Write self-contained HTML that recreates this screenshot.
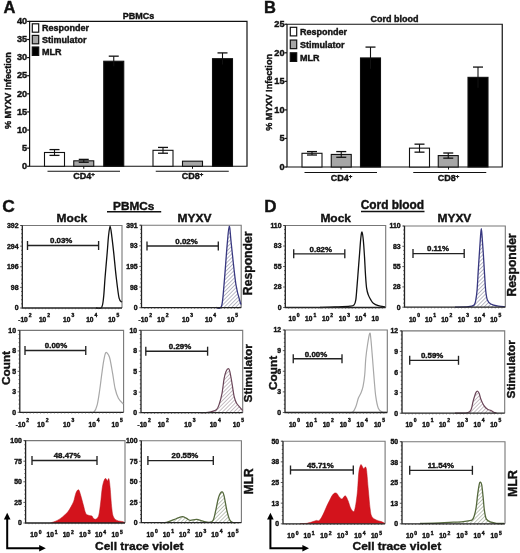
<!DOCTYPE html>
<html><head><meta charset="utf-8"><style>
html,body{margin:0;padding:0;background:#fff;}
svg{display:block;font-family:"Liberation Sans", sans-serif;will-change:transform;filter:blur(0.3px);}
text{stroke:currentColor;stroke-width:0.4px;paint-order:stroke;}
</style></head><body>
<svg width="520" height="553" viewBox="0 0 520 553">
<defs>
<pattern id="hb" patternUnits="userSpaceOnUse" width="2.7" height="2.7" patternTransform="rotate(45)"><line x1="0" y1="-1" x2="0" y2="4" stroke="#76768f" stroke-width="1"/></pattern>
<pattern id="hm" patternUnits="userSpaceOnUse" width="2.7" height="2.7" patternTransform="rotate(45)"><line x1="0" y1="-1" x2="0" y2="4" stroke="#8f7f89" stroke-width="1"/></pattern>
<pattern id="hg" patternUnits="userSpaceOnUse" width="2.7" height="2.7" patternTransform="rotate(45)"><line x1="0" y1="-1" x2="0" y2="4" stroke="#7f8a74" stroke-width="1"/></pattern>
</defs>
<rect width="520" height="553" fill="#fff"/>
<text x="3.5" y="13.2" font-size="16.5" text-anchor="start" font-weight="bold" fill="#111" color="#111">A</text>
<text x="263.9" y="12.9" font-size="16.5" text-anchor="start" font-weight="bold" fill="#111" color="#111">B</text>
<text x="2.3" y="211.5" font-size="17.4" text-anchor="start" font-weight="bold" fill="#111" color="#111">C</text>
<text x="264.2" y="211.7" font-size="17" text-anchor="start" font-weight="bold" fill="#111" color="#111">D</text>
<path d="M29.6 21.4 H247 V166.25 H29.6 Z" fill="none" stroke="#111" stroke-width="1.2"/>
<line x1="27.1" y1="166.25" x2="29.6" y2="166.25" stroke="#111" stroke-width="1.2"/>
<text x="27.200000000000003" y="168.95" font-size="9.2" text-anchor="end" font-weight="bold" fill="#111" color="#111">0</text>
<line x1="27.1" y1="148.14375" x2="29.6" y2="148.14375" stroke="#111" stroke-width="1.2"/>
<text x="27.200000000000003" y="150.84375" font-size="9.2" text-anchor="end" font-weight="bold" fill="#111" color="#111">5</text>
<line x1="27.1" y1="130.0375" x2="29.6" y2="130.0375" stroke="#111" stroke-width="1.2"/>
<text x="27.200000000000003" y="132.73749999999998" font-size="9.2" text-anchor="end" font-weight="bold" fill="#111" color="#111">10</text>
<line x1="27.1" y1="111.93125" x2="29.6" y2="111.93125" stroke="#111" stroke-width="1.2"/>
<text x="27.200000000000003" y="114.63125000000001" font-size="9.2" text-anchor="end" font-weight="bold" fill="#111" color="#111">15</text>
<line x1="27.1" y1="93.825" x2="29.6" y2="93.825" stroke="#111" stroke-width="1.2"/>
<text x="27.200000000000003" y="96.525" font-size="9.2" text-anchor="end" font-weight="bold" fill="#111" color="#111">20</text>
<line x1="27.1" y1="75.71875" x2="29.6" y2="75.71875" stroke="#111" stroke-width="1.2"/>
<text x="27.200000000000003" y="78.41875" font-size="9.2" text-anchor="end" font-weight="bold" fill="#111" color="#111">25</text>
<line x1="27.1" y1="57.61250000000001" x2="29.6" y2="57.61250000000001" stroke="#111" stroke-width="1.2"/>
<text x="27.200000000000003" y="60.312500000000014" font-size="9.2" text-anchor="end" font-weight="bold" fill="#111" color="#111">30</text>
<line x1="27.1" y1="39.50625000000001" x2="29.6" y2="39.50625000000001" stroke="#111" stroke-width="1.2"/>
<text x="27.200000000000003" y="42.20625000000001" font-size="9.2" text-anchor="end" font-weight="bold" fill="#111" color="#111">35</text>
<line x1="27.1" y1="21.400000000000006" x2="29.6" y2="21.400000000000006" stroke="#111" stroke-width="1.2"/>
<text x="27.200000000000003" y="24.100000000000005" font-size="9.2" text-anchor="end" font-weight="bold" fill="#111" color="#111">40</text>
<rect x="44.5" y="152.48925" width="20" height="13.760750000000002" fill="#fff" stroke="#111" stroke-width="1.1"/>
<line x1="54.5" y1="149.59225" x2="54.5" y2="155.38625" stroke="#111" stroke-width="1.1"/>
<line x1="49.5" y1="149.59225" x2="59.5" y2="149.59225" stroke="#111" stroke-width="1.3"/>
<line x1="49.5" y1="155.38625" x2="59.5" y2="155.38625" stroke="#111" stroke-width="1.3"/>
<rect x="73.75" y="160.818125" width="20" height="5.431874999999991" fill="#a6a6a6" stroke="#111" stroke-width="1.1"/>
<line x1="83.75" y1="159.369625" x2="83.75" y2="162.266625" stroke="#111" stroke-width="1.1"/>
<line x1="78.75" y1="159.369625" x2="88.75" y2="159.369625" stroke="#111" stroke-width="1.3"/>
<line x1="78.75" y1="162.266625" x2="88.75" y2="162.266625" stroke="#111" stroke-width="1.3"/>
<rect x="103.75" y="61.23375" width="20" height="105.01625" fill="#000" stroke="#111" stroke-width="1.1"/>
<line x1="113.75" y1="56.164000000000016" x2="113.75" y2="66.3035" stroke="#111" stroke-width="1.1"/>
<line x1="108.75" y1="56.164000000000016" x2="118.75" y2="56.164000000000016" stroke="#111" stroke-width="1.3"/>
<rect x="153" y="150.3165" width="20" height="15.93350000000001" fill="#fff" stroke="#111" stroke-width="1.1"/>
<line x1="163.0" y1="147.4195" x2="163.0" y2="153.2135" stroke="#111" stroke-width="1.1"/>
<line x1="158.0" y1="147.4195" x2="168.0" y2="147.4195" stroke="#111" stroke-width="1.3"/>
<line x1="158.0" y1="153.2135" x2="168.0" y2="153.2135" stroke="#111" stroke-width="1.3"/>
<rect x="182.5" y="161.18025" width="20" height="5.069749999999999" fill="#a6a6a6" stroke="#111" stroke-width="1.1"/>
<rect x="212.5" y="58.698875" width="20" height="107.551125" fill="#000" stroke="#111" stroke-width="1.1"/>
<line x1="222.5" y1="52.904875000000004" x2="222.5" y2="64.49287500000001" stroke="#111" stroke-width="1.1"/>
<line x1="217.5" y1="52.904875000000004" x2="227.5" y2="52.904875000000004" stroke="#111" stroke-width="1.3"/>
<line x1="83.75" y1="166.25" x2="83.75" y2="168.75" stroke="#111" stroke-width="1"/>
<line x1="47.5" y1="171.25" x2="120" y2="171.25" stroke="#111" stroke-width="1.2"/>
<text x="84" y="179" font-size="9" text-anchor="middle" font-weight="bold" fill="#111" color="#111">CD4<tspan font-size="6" dy="-3.5">+</tspan></text>
<line x1="192.5" y1="166.25" x2="192.5" y2="168.75" stroke="#111" stroke-width="1"/>
<line x1="155.75" y1="171.25" x2="228.75" y2="171.25" stroke="#111" stroke-width="1.2"/>
<text x="192.5" y="179" font-size="9" text-anchor="middle" font-weight="bold" fill="#111" color="#111">CD8<tspan font-size="6" dy="-3.5">+</tspan></text>
<rect x="32.3" y="23.8" width="6.4" height="8.4" fill="#fff" stroke="#111" stroke-width="1.2"/>
<text x="42.099999999999994" y="31.3" font-size="9" text-anchor="start" font-weight="bold" fill="#111" color="#111">Responder</text>
<rect x="32.3" y="35.4" width="6.4" height="8.4" fill="#a6a6a6" stroke="#111" stroke-width="1.2"/>
<text x="42.099999999999994" y="42.9" font-size="9" text-anchor="start" font-weight="bold" fill="#111" color="#111">Stimulator</text>
<rect x="32.3" y="47.0" width="6.4" height="8.4" fill="#000" stroke="#111" stroke-width="1.2"/>
<text x="42.099999999999994" y="54.5" font-size="9" text-anchor="start" font-weight="bold" fill="#111" color="#111">MLR</text>
<text x="138.5" y="18.8" font-size="9" text-anchor="middle" font-weight="bold" fill="#111" color="#111">PBMCs</text>
<text x="11.5" y="90.6" font-size="9.1" text-anchor="middle" font-weight="bold" fill="#111" color="#111" transform="rotate(-90 11.5 90.6)">% MYXV Infection</text>
<path d="M287 24.25 H502.25 V167 H287 Z" fill="none" stroke="#111" stroke-width="1.2"/>
<line x1="284.5" y1="167.0" x2="287" y2="167.0" stroke="#111" stroke-width="1.2"/>
<text x="284.6" y="169.7" font-size="9.2" text-anchor="end" font-weight="bold" fill="#111" color="#111">0</text>
<line x1="284.5" y1="138.45" x2="287" y2="138.45" stroke="#111" stroke-width="1.2"/>
<text x="284.6" y="141.14999999999998" font-size="9.2" text-anchor="end" font-weight="bold" fill="#111" color="#111">5</text>
<line x1="284.5" y1="109.9" x2="287" y2="109.9" stroke="#111" stroke-width="1.2"/>
<text x="284.6" y="112.60000000000001" font-size="9.2" text-anchor="end" font-weight="bold" fill="#111" color="#111">10</text>
<line x1="284.5" y1="81.35" x2="287" y2="81.35" stroke="#111" stroke-width="1.2"/>
<text x="284.6" y="84.05" font-size="9.2" text-anchor="end" font-weight="bold" fill="#111" color="#111">15</text>
<line x1="284.5" y1="52.8" x2="287" y2="52.8" stroke="#111" stroke-width="1.2"/>
<text x="284.6" y="55.5" font-size="9.2" text-anchor="end" font-weight="bold" fill="#111" color="#111">20</text>
<line x1="284.5" y1="24.25" x2="287" y2="24.25" stroke="#111" stroke-width="1.2"/>
<text x="284.6" y="26.95" font-size="9.2" text-anchor="end" font-weight="bold" fill="#111" color="#111">25</text>
<rect x="302" y="153.296" width="20" height="13.704000000000008" fill="#fff" stroke="#111" stroke-width="1.1"/>
<line x1="312.0" y1="151.583" x2="312.0" y2="155.00900000000001" stroke="#111" stroke-width="1.1"/>
<line x1="307.0" y1="151.583" x2="317.0" y2="151.583" stroke="#111" stroke-width="1.3"/>
<line x1="307.0" y1="155.00900000000001" x2="317.0" y2="155.00900000000001" stroke="#111" stroke-width="1.3"/>
<rect x="331.25" y="154.438" width="20" height="12.562000000000012" fill="#a6a6a6" stroke="#111" stroke-width="1.1"/>
<line x1="341.25" y1="151.583" x2="341.25" y2="157.293" stroke="#111" stroke-width="1.1"/>
<line x1="336.25" y1="151.583" x2="346.25" y2="151.583" stroke="#111" stroke-width="1.3"/>
<line x1="336.25" y1="157.293" x2="346.25" y2="157.293" stroke="#111" stroke-width="1.3"/>
<rect x="360.5" y="57.93899999999999" width="20" height="109.061" fill="#000" stroke="#111" stroke-width="1.1"/>
<line x1="370.5" y1="47.09" x2="370.5" y2="68.78799999999998" stroke="#111" stroke-width="1.1"/>
<line x1="365.5" y1="47.09" x2="375.5" y2="47.09" stroke="#111" stroke-width="1.3"/>
<rect x="409.5" y="148.157" width="20" height="18.84299999999999" fill="#fff" stroke="#111" stroke-width="1.1"/>
<line x1="419.5" y1="144.16" x2="419.5" y2="152.154" stroke="#111" stroke-width="1.1"/>
<line x1="414.5" y1="144.16" x2="424.5" y2="144.16" stroke="#111" stroke-width="1.3"/>
<line x1="414.5" y1="152.154" x2="424.5" y2="152.154" stroke="#111" stroke-width="1.3"/>
<rect x="438.25" y="155.58" width="20" height="11.419999999999987" fill="#a6a6a6" stroke="#111" stroke-width="1.1"/>
<line x1="448.25" y1="153.0105" x2="448.25" y2="158.1495" stroke="#111" stroke-width="1.1"/>
<line x1="443.25" y1="153.0105" x2="453.25" y2="153.0105" stroke="#111" stroke-width="1.3"/>
<line x1="443.25" y1="158.1495" x2="453.25" y2="158.1495" stroke="#111" stroke-width="1.3"/>
<rect x="468" y="77.35300000000001" width="20" height="89.64699999999999" fill="#000" stroke="#111" stroke-width="1.1"/>
<line x1="478.0" y1="67.075" x2="478.0" y2="87.63100000000001" stroke="#111" stroke-width="1.1"/>
<line x1="473.0" y1="67.075" x2="483.0" y2="67.075" stroke="#111" stroke-width="1.3"/>
<line x1="341" y1="167" x2="341" y2="169.5" stroke="#111" stroke-width="1"/>
<line x1="304.5" y1="172.5" x2="377" y2="172.5" stroke="#111" stroke-width="1.2"/>
<text x="341.5" y="181.2" font-size="9" text-anchor="middle" font-weight="bold" fill="#111" color="#111">CD4<tspan font-size="6" dy="-3.5">+</tspan></text>
<line x1="448.5" y1="167" x2="448.5" y2="169.5" stroke="#111" stroke-width="1"/>
<line x1="413.25" y1="172.5" x2="486.25" y2="172.5" stroke="#111" stroke-width="1.2"/>
<text x="448.5" y="181.2" font-size="9" text-anchor="middle" font-weight="bold" fill="#111" color="#111">CD8<tspan font-size="6" dy="-3.5">+</tspan></text>
<rect x="290.3" y="27.3" width="6.4" height="8.6" fill="#fff" stroke="#111" stroke-width="1.2"/>
<text x="300.1" y="35.2" font-size="9" text-anchor="start" font-weight="bold" fill="#111" color="#111">Responder</text>
<rect x="290.3" y="40.05" width="6.4" height="8.6" fill="#a6a6a6" stroke="#111" stroke-width="1.2"/>
<text x="300.1" y="47.949999999999996" font-size="9" text-anchor="start" font-weight="bold" fill="#111" color="#111">Stimulator</text>
<rect x="290.3" y="52.8" width="6.4" height="8.6" fill="#000" stroke="#111" stroke-width="1.2"/>
<text x="300.1" y="60.699999999999996" font-size="9" text-anchor="start" font-weight="bold" fill="#111" color="#111">MLR</text>
<text x="394.5" y="21.5" font-size="9" text-anchor="middle" font-weight="bold" fill="#111" color="#111">Cord blood</text>
<text x="272" y="92.4" font-size="9.1" text-anchor="middle" font-weight="bold" fill="#111" color="#111" transform="rotate(-90 272 92.4)">% MYXV Infection</text>
<path d="M20.8 225.5 H122 V308" fill="none" stroke="#777" stroke-width="1.1"/>
<path d="M96.00 308.00 C96.92 307.93 100.25 309.23 101.50 307.60 C102.75 305.97 102.90 303.30 103.50 298.20 C104.10 293.10 104.48 284.60 105.10 277.00 C105.72 269.40 106.63 259.38 107.20 252.60 C107.77 245.82 108.02 240.70 108.50 236.30 C108.98 231.90 109.55 226.20 110.10 226.20 C110.65 226.20 111.20 231.90 111.80 236.30 C112.40 240.70 112.97 245.82 113.70 252.60 C114.43 259.38 115.30 269.40 116.20 277.00 C117.10 284.60 118.15 294.00 119.10 298.20 C120.05 302.40 121.43 301.53 121.90 302.20" fill="none" stroke="#111" stroke-width="1.3" stroke-linejoin="round"/>
<path d="M22.3 225.5 V308 H122" fill="none" stroke="#222" stroke-width="1.3"/>
<line x1="20.1" y1="225.5" x2="22.3" y2="225.5" stroke="#333" stroke-width="0.8"/>
<line x1="21.1" y1="229.625" x2="22.3" y2="229.625" stroke="#333" stroke-width="0.8"/>
<line x1="21.1" y1="233.75" x2="22.3" y2="233.75" stroke="#333" stroke-width="0.8"/>
<line x1="21.1" y1="237.875" x2="22.3" y2="237.875" stroke="#333" stroke-width="0.8"/>
<line x1="21.1" y1="242.0" x2="22.3" y2="242.0" stroke="#333" stroke-width="0.8"/>
<line x1="20.1" y1="246.125" x2="22.3" y2="246.125" stroke="#333" stroke-width="0.8"/>
<line x1="21.1" y1="250.25" x2="22.3" y2="250.25" stroke="#333" stroke-width="0.8"/>
<line x1="21.1" y1="254.375" x2="22.3" y2="254.375" stroke="#333" stroke-width="0.8"/>
<line x1="21.1" y1="258.5" x2="22.3" y2="258.5" stroke="#333" stroke-width="0.8"/>
<line x1="21.1" y1="262.625" x2="22.3" y2="262.625" stroke="#333" stroke-width="0.8"/>
<line x1="20.1" y1="266.75" x2="22.3" y2="266.75" stroke="#333" stroke-width="0.8"/>
<line x1="21.1" y1="270.875" x2="22.3" y2="270.875" stroke="#333" stroke-width="0.8"/>
<line x1="21.1" y1="275.0" x2="22.3" y2="275.0" stroke="#333" stroke-width="0.8"/>
<line x1="21.1" y1="279.125" x2="22.3" y2="279.125" stroke="#333" stroke-width="0.8"/>
<line x1="21.1" y1="283.25" x2="22.3" y2="283.25" stroke="#333" stroke-width="0.8"/>
<line x1="20.1" y1="287.375" x2="22.3" y2="287.375" stroke="#333" stroke-width="0.8"/>
<line x1="21.1" y1="291.5" x2="22.3" y2="291.5" stroke="#333" stroke-width="0.8"/>
<line x1="21.1" y1="295.625" x2="22.3" y2="295.625" stroke="#333" stroke-width="0.8"/>
<line x1="21.1" y1="299.75" x2="22.3" y2="299.75" stroke="#333" stroke-width="0.8"/>
<line x1="21.1" y1="303.875" x2="22.3" y2="303.875" stroke="#333" stroke-width="0.8"/>
<line x1="20.1" y1="308.0" x2="22.3" y2="308.0" stroke="#333" stroke-width="0.8"/>
<line x1="25.623333333333335" y1="308" x2="25.623333333333335" y2="309.2" stroke="#444" stroke-width="0.7"/>
<line x1="28.946666666666665" y1="308" x2="28.946666666666665" y2="309.2" stroke="#444" stroke-width="0.7"/>
<line x1="32.27" y1="308" x2="32.27" y2="309.2" stroke="#444" stroke-width="0.7"/>
<line x1="35.593333333333334" y1="308" x2="35.593333333333334" y2="309.2" stroke="#444" stroke-width="0.7"/>
<line x1="38.91666666666667" y1="308" x2="38.91666666666667" y2="309.2" stroke="#444" stroke-width="0.7"/>
<line x1="42.24" y1="308" x2="42.24" y2="309.2" stroke="#444" stroke-width="0.7"/>
<line x1="45.56333333333333" y1="308" x2="45.56333333333333" y2="309.2" stroke="#444" stroke-width="0.7"/>
<line x1="48.88666666666667" y1="308" x2="48.88666666666667" y2="309.2" stroke="#444" stroke-width="0.7"/>
<line x1="52.21000000000001" y1="308" x2="52.21000000000001" y2="309.2" stroke="#444" stroke-width="0.7"/>
<line x1="55.53333333333333" y1="308" x2="55.53333333333333" y2="309.2" stroke="#444" stroke-width="0.7"/>
<line x1="58.85666666666667" y1="308" x2="58.85666666666667" y2="309.2" stroke="#444" stroke-width="0.7"/>
<line x1="62.18000000000001" y1="308" x2="62.18000000000001" y2="309.2" stroke="#444" stroke-width="0.7"/>
<line x1="65.50333333333334" y1="308" x2="65.50333333333334" y2="309.2" stroke="#444" stroke-width="0.7"/>
<line x1="68.82666666666667" y1="308" x2="68.82666666666667" y2="309.2" stroke="#444" stroke-width="0.7"/>
<line x1="72.15" y1="308" x2="72.15" y2="309.2" stroke="#444" stroke-width="0.7"/>
<line x1="75.47333333333333" y1="308" x2="75.47333333333333" y2="309.2" stroke="#444" stroke-width="0.7"/>
<line x1="78.79666666666667" y1="308" x2="78.79666666666667" y2="309.2" stroke="#444" stroke-width="0.7"/>
<line x1="82.12" y1="308" x2="82.12" y2="309.2" stroke="#444" stroke-width="0.7"/>
<line x1="85.44333333333333" y1="308" x2="85.44333333333333" y2="309.2" stroke="#444" stroke-width="0.7"/>
<line x1="88.76666666666667" y1="308" x2="88.76666666666667" y2="309.2" stroke="#444" stroke-width="0.7"/>
<line x1="92.09" y1="308" x2="92.09" y2="309.2" stroke="#444" stroke-width="0.7"/>
<line x1="95.41333333333333" y1="308" x2="95.41333333333333" y2="309.2" stroke="#444" stroke-width="0.7"/>
<line x1="98.73666666666666" y1="308" x2="98.73666666666666" y2="309.2" stroke="#444" stroke-width="0.7"/>
<line x1="102.06" y1="308" x2="102.06" y2="309.2" stroke="#444" stroke-width="0.7"/>
<line x1="105.38333333333333" y1="308" x2="105.38333333333333" y2="309.2" stroke="#444" stroke-width="0.7"/>
<line x1="108.70666666666668" y1="308" x2="108.70666666666668" y2="309.2" stroke="#444" stroke-width="0.7"/>
<line x1="112.03" y1="308" x2="112.03" y2="309.2" stroke="#444" stroke-width="0.7"/>
<line x1="115.35333333333332" y1="308" x2="115.35333333333332" y2="309.2" stroke="#444" stroke-width="0.7"/>
<line x1="118.67666666666668" y1="308" x2="118.67666666666668" y2="309.2" stroke="#444" stroke-width="0.7"/>
<text x="18.5" y="227.95" font-size="6.9" text-anchor="end" font-weight="bold" fill="#111" color="#111">392</text>
<text x="18.5" y="248.575" font-size="6.9" text-anchor="end" font-weight="bold" fill="#111" color="#111">294</text>
<text x="18.5" y="269.2" font-size="6.9" text-anchor="end" font-weight="bold" fill="#111" color="#111">196</text>
<text x="18.5" y="289.825" font-size="6.9" text-anchor="end" font-weight="bold" fill="#111" color="#111">98</text>
<text x="18.5" y="310.45" font-size="6.9" text-anchor="end" font-weight="bold" fill="#111" color="#111">0</text>
<text x="18.2" y="321.6" font-size="6.0" text-anchor="start" font-weight="bold" fill="#111" color="#111">-</text>
<text x="20.4" y="321.6" font-size="6.6" text-anchor="start" font-weight="bold" fill="#111" color="#111">10<tspan font-size="5" dx="1" dy="-4.4">2</tspan></text>
<text x="38.9" y="321.6" font-size="6.6" text-anchor="start" font-weight="bold" fill="#111" color="#111">10<tspan font-size="5" dx="1" dy="-4.4">2</tspan></text>
<text x="63.1" y="321.6" font-size="6.6" text-anchor="start" font-weight="bold" fill="#111" color="#111">10<tspan font-size="5" dx="1" dy="-4.4">3</tspan></text>
<text x="86.2" y="321.6" font-size="6.6" text-anchor="start" font-weight="bold" fill="#111" color="#111">10<tspan font-size="5" dx="1" dy="-4.4">4</tspan></text>
<text x="108.2" y="321.6" font-size="6.6" text-anchor="start" font-weight="bold" fill="#111" color="#111">10<tspan font-size="5" dx="1" dy="-4.4">5</tspan></text>
<line x1="27.5" y1="245.5" x2="98.6" y2="245.5" stroke="#222" stroke-width="1.35"/>
<line x1="27.5" y1="241.0" x2="27.5" y2="250.0" stroke="#222" stroke-width="1.35"/>
<line x1="98.6" y1="241.0" x2="98.6" y2="250.0" stroke="#222" stroke-width="1.35"/>
<text x="61.2" y="243.3" font-size="7.9" text-anchor="middle" font-weight="bold" fill="#111" color="#111">0.03%</text>
<path d="M140.0 225.2 H241.2 V307.7" fill="none" stroke="#777" stroke-width="1.1"/>
<path d="M216.00 307.50 C216.92 307.30 220.17 310.05 221.50 306.30 C222.83 302.55 223.05 295.32 224.00 285.00 C224.95 274.68 226.32 254.20 227.20 244.40 C228.08 234.60 228.62 226.27 229.30 226.20 C229.98 226.13 230.18 234.20 231.30 244.00 C232.42 253.80 234.38 274.88 236.00 285.00 C237.62 295.12 240.17 301.42 241.00 304.70 L241.00 307.7 L216.00 307.7 Z" fill="url(#hb)" stroke="none"/>
<path d="M216.00 307.50 C216.92 307.30 220.17 310.05 221.50 306.30 C222.83 302.55 223.05 295.32 224.00 285.00 C224.95 274.68 226.32 254.20 227.20 244.40 C228.08 234.60 228.62 226.27 229.30 226.20 C229.98 226.13 230.18 234.20 231.30 244.00 C232.42 253.80 234.38 274.88 236.00 285.00 C237.62 295.12 240.17 301.42 241.00 304.70" fill="none" stroke="#383880" stroke-width="1.3" stroke-linejoin="round"/>
<path d="M141.5 225.2 V307.7 H241.2" fill="none" stroke="#222" stroke-width="1.3"/>
<line x1="139.3" y1="225.2" x2="141.5" y2="225.2" stroke="#333" stroke-width="0.8"/>
<line x1="140.3" y1="229.325" x2="141.5" y2="229.325" stroke="#333" stroke-width="0.8"/>
<line x1="140.3" y1="233.45" x2="141.5" y2="233.45" stroke="#333" stroke-width="0.8"/>
<line x1="140.3" y1="237.575" x2="141.5" y2="237.575" stroke="#333" stroke-width="0.8"/>
<line x1="140.3" y1="241.7" x2="141.5" y2="241.7" stroke="#333" stroke-width="0.8"/>
<line x1="139.3" y1="245.825" x2="141.5" y2="245.825" stroke="#333" stroke-width="0.8"/>
<line x1="140.3" y1="249.95" x2="141.5" y2="249.95" stroke="#333" stroke-width="0.8"/>
<line x1="140.3" y1="254.075" x2="141.5" y2="254.075" stroke="#333" stroke-width="0.8"/>
<line x1="140.3" y1="258.2" x2="141.5" y2="258.2" stroke="#333" stroke-width="0.8"/>
<line x1="140.3" y1="262.325" x2="141.5" y2="262.325" stroke="#333" stroke-width="0.8"/>
<line x1="139.3" y1="266.45" x2="141.5" y2="266.45" stroke="#333" stroke-width="0.8"/>
<line x1="140.3" y1="270.575" x2="141.5" y2="270.575" stroke="#333" stroke-width="0.8"/>
<line x1="140.3" y1="274.7" x2="141.5" y2="274.7" stroke="#333" stroke-width="0.8"/>
<line x1="140.3" y1="278.825" x2="141.5" y2="278.825" stroke="#333" stroke-width="0.8"/>
<line x1="140.3" y1="282.95" x2="141.5" y2="282.95" stroke="#333" stroke-width="0.8"/>
<line x1="139.3" y1="287.075" x2="141.5" y2="287.075" stroke="#333" stroke-width="0.8"/>
<line x1="140.3" y1="291.2" x2="141.5" y2="291.2" stroke="#333" stroke-width="0.8"/>
<line x1="140.3" y1="295.325" x2="141.5" y2="295.325" stroke="#333" stroke-width="0.8"/>
<line x1="140.3" y1="299.45" x2="141.5" y2="299.45" stroke="#333" stroke-width="0.8"/>
<line x1="140.3" y1="303.575" x2="141.5" y2="303.575" stroke="#333" stroke-width="0.8"/>
<line x1="139.3" y1="307.7" x2="141.5" y2="307.7" stroke="#333" stroke-width="0.8"/>
<line x1="144.82333333333332" y1="307.7" x2="144.82333333333332" y2="308.9" stroke="#444" stroke-width="0.7"/>
<line x1="148.14666666666668" y1="307.7" x2="148.14666666666668" y2="308.9" stroke="#444" stroke-width="0.7"/>
<line x1="151.47" y1="307.7" x2="151.47" y2="308.9" stroke="#444" stroke-width="0.7"/>
<line x1="154.79333333333332" y1="307.7" x2="154.79333333333332" y2="308.9" stroke="#444" stroke-width="0.7"/>
<line x1="158.11666666666667" y1="307.7" x2="158.11666666666667" y2="308.9" stroke="#444" stroke-width="0.7"/>
<line x1="161.44" y1="307.7" x2="161.44" y2="308.9" stroke="#444" stroke-width="0.7"/>
<line x1="164.76333333333332" y1="307.7" x2="164.76333333333332" y2="308.9" stroke="#444" stroke-width="0.7"/>
<line x1="168.08666666666667" y1="307.7" x2="168.08666666666667" y2="308.9" stroke="#444" stroke-width="0.7"/>
<line x1="171.41" y1="307.7" x2="171.41" y2="308.9" stroke="#444" stroke-width="0.7"/>
<line x1="174.73333333333332" y1="307.7" x2="174.73333333333332" y2="308.9" stroke="#444" stroke-width="0.7"/>
<line x1="178.05666666666667" y1="307.7" x2="178.05666666666667" y2="308.9" stroke="#444" stroke-width="0.7"/>
<line x1="181.38" y1="307.7" x2="181.38" y2="308.9" stroke="#444" stroke-width="0.7"/>
<line x1="184.70333333333332" y1="307.7" x2="184.70333333333332" y2="308.9" stroke="#444" stroke-width="0.7"/>
<line x1="188.02666666666664" y1="307.7" x2="188.02666666666664" y2="308.9" stroke="#444" stroke-width="0.7"/>
<line x1="191.35" y1="307.7" x2="191.35" y2="308.9" stroke="#444" stroke-width="0.7"/>
<line x1="194.67333333333332" y1="307.7" x2="194.67333333333332" y2="308.9" stroke="#444" stroke-width="0.7"/>
<line x1="197.99666666666667" y1="307.7" x2="197.99666666666667" y2="308.9" stroke="#444" stroke-width="0.7"/>
<line x1="201.32" y1="307.7" x2="201.32" y2="308.9" stroke="#444" stroke-width="0.7"/>
<line x1="204.64333333333332" y1="307.7" x2="204.64333333333332" y2="308.9" stroke="#444" stroke-width="0.7"/>
<line x1="207.96666666666664" y1="307.7" x2="207.96666666666664" y2="308.9" stroke="#444" stroke-width="0.7"/>
<line x1="211.29" y1="307.7" x2="211.29" y2="308.9" stroke="#444" stroke-width="0.7"/>
<line x1="214.61333333333332" y1="307.7" x2="214.61333333333332" y2="308.9" stroke="#444" stroke-width="0.7"/>
<line x1="217.93666666666667" y1="307.7" x2="217.93666666666667" y2="308.9" stroke="#444" stroke-width="0.7"/>
<line x1="221.26" y1="307.7" x2="221.26" y2="308.9" stroke="#444" stroke-width="0.7"/>
<line x1="224.58333333333331" y1="307.7" x2="224.58333333333331" y2="308.9" stroke="#444" stroke-width="0.7"/>
<line x1="227.90666666666667" y1="307.7" x2="227.90666666666667" y2="308.9" stroke="#444" stroke-width="0.7"/>
<line x1="231.23" y1="307.7" x2="231.23" y2="308.9" stroke="#444" stroke-width="0.7"/>
<line x1="234.5533333333333" y1="307.7" x2="234.5533333333333" y2="308.9" stroke="#444" stroke-width="0.7"/>
<line x1="237.87666666666667" y1="307.7" x2="237.87666666666667" y2="308.9" stroke="#444" stroke-width="0.7"/>
<text x="137.7" y="227.64999999999998" font-size="6.9" text-anchor="end" font-weight="bold" fill="#111" color="#111">391</text>
<text x="137.7" y="248.27499999999998" font-size="6.9" text-anchor="end" font-weight="bold" fill="#111" color="#111">93</text>
<text x="137.7" y="268.9" font-size="6.9" text-anchor="end" font-weight="bold" fill="#111" color="#111">195</text>
<text x="137.7" y="289.525" font-size="6.9" text-anchor="end" font-weight="bold" fill="#111" color="#111">98</text>
<text x="137.7" y="310.15" font-size="6.9" text-anchor="end" font-weight="bold" fill="#111" color="#111">0</text>
<text x="138.60000000000002" y="321.6" font-size="6.0" text-anchor="start" font-weight="bold" fill="#111" color="#111">-</text>
<text x="140.8" y="321.6" font-size="6.6" text-anchor="start" font-weight="bold" fill="#111" color="#111">10<tspan font-size="5" dx="1" dy="-4.4">2</tspan></text>
<text x="157.3" y="321.6" font-size="6.6" text-anchor="start" font-weight="bold" fill="#111" color="#111">10<tspan font-size="5" dx="1" dy="-4.4">2</tspan></text>
<text x="182" y="321.6" font-size="6.6" text-anchor="start" font-weight="bold" fill="#111" color="#111">10<tspan font-size="5" dx="1" dy="-4.4">3</tspan></text>
<text x="205" y="321.6" font-size="6.6" text-anchor="start" font-weight="bold" fill="#111" color="#111">10<tspan font-size="5" dx="1" dy="-4.4">4</tspan></text>
<text x="227" y="321.6" font-size="6.6" text-anchor="start" font-weight="bold" fill="#111" color="#111">10<tspan font-size="5" dx="1" dy="-4.4">5</tspan></text>
<line x1="147" y1="246" x2="218.3" y2="246" stroke="#222" stroke-width="1.35"/>
<line x1="147" y1="241.5" x2="147" y2="250.5" stroke="#222" stroke-width="1.35"/>
<line x1="218.3" y1="241.5" x2="218.3" y2="250.5" stroke="#222" stroke-width="1.35"/>
<text x="186.5" y="243.8" font-size="7.9" text-anchor="middle" font-weight="bold" fill="#111" color="#111">0.02%</text>
<path d="M18.3 330.4 H123.6 V412.3" fill="none" stroke="#777" stroke-width="1.1"/>
<path d="M90.00 412.30 C90.67 412.25 92.80 413.25 94.00 412.00 C95.20 410.75 96.25 408.47 97.20 404.80 C98.15 401.13 98.93 395.15 99.70 390.00 C100.47 384.85 101.13 378.77 101.80 373.90 C102.47 369.03 103.03 364.33 103.70 360.80 C104.37 357.27 104.98 353.65 105.80 352.70 C106.62 351.75 107.87 353.88 108.60 355.10 C109.33 356.32 109.52 356.87 110.20 360.00 C110.88 363.13 111.88 369.15 112.70 373.90 C113.52 378.65 114.15 384.43 115.10 388.50 C116.05 392.57 117.03 395.72 118.40 398.30 C119.77 400.88 122.48 403.05 123.30 404.00" fill="none" stroke="#a8a8a8" stroke-width="1.2" stroke-linejoin="round"/>
<path d="M19.8 330.4 V412.3 H123.6" fill="none" stroke="#222" stroke-width="1.3"/>
<line x1="17.6" y1="330.4" x2="19.8" y2="330.4" stroke="#333" stroke-width="0.8"/>
<line x1="18.6" y1="334.495" x2="19.8" y2="334.495" stroke="#333" stroke-width="0.8"/>
<line x1="18.6" y1="338.59" x2="19.8" y2="338.59" stroke="#333" stroke-width="0.8"/>
<line x1="18.6" y1="342.685" x2="19.8" y2="342.685" stroke="#333" stroke-width="0.8"/>
<line x1="18.6" y1="346.78" x2="19.8" y2="346.78" stroke="#333" stroke-width="0.8"/>
<line x1="17.6" y1="350.875" x2="19.8" y2="350.875" stroke="#333" stroke-width="0.8"/>
<line x1="18.6" y1="354.96999999999997" x2="19.8" y2="354.96999999999997" stroke="#333" stroke-width="0.8"/>
<line x1="18.6" y1="359.065" x2="19.8" y2="359.065" stroke="#333" stroke-width="0.8"/>
<line x1="18.6" y1="363.15999999999997" x2="19.8" y2="363.15999999999997" stroke="#333" stroke-width="0.8"/>
<line x1="18.6" y1="367.255" x2="19.8" y2="367.255" stroke="#333" stroke-width="0.8"/>
<line x1="17.6" y1="371.35" x2="19.8" y2="371.35" stroke="#333" stroke-width="0.8"/>
<line x1="18.6" y1="375.445" x2="19.8" y2="375.445" stroke="#333" stroke-width="0.8"/>
<line x1="18.6" y1="379.54" x2="19.8" y2="379.54" stroke="#333" stroke-width="0.8"/>
<line x1="18.6" y1="383.635" x2="19.8" y2="383.635" stroke="#333" stroke-width="0.8"/>
<line x1="18.6" y1="387.73" x2="19.8" y2="387.73" stroke="#333" stroke-width="0.8"/>
<line x1="17.6" y1="391.825" x2="19.8" y2="391.825" stroke="#333" stroke-width="0.8"/>
<line x1="18.6" y1="395.92" x2="19.8" y2="395.92" stroke="#333" stroke-width="0.8"/>
<line x1="18.6" y1="400.015" x2="19.8" y2="400.015" stroke="#333" stroke-width="0.8"/>
<line x1="18.6" y1="404.11" x2="19.8" y2="404.11" stroke="#333" stroke-width="0.8"/>
<line x1="18.6" y1="408.20500000000004" x2="19.8" y2="408.20500000000004" stroke="#333" stroke-width="0.8"/>
<line x1="17.6" y1="412.3" x2="19.8" y2="412.3" stroke="#333" stroke-width="0.8"/>
<line x1="23.26" y1="412.3" x2="23.26" y2="413.5" stroke="#444" stroke-width="0.7"/>
<line x1="26.72" y1="412.3" x2="26.72" y2="413.5" stroke="#444" stroke-width="0.7"/>
<line x1="30.18" y1="412.3" x2="30.18" y2="413.5" stroke="#444" stroke-width="0.7"/>
<line x1="33.64" y1="412.3" x2="33.64" y2="413.5" stroke="#444" stroke-width="0.7"/>
<line x1="37.1" y1="412.3" x2="37.1" y2="413.5" stroke="#444" stroke-width="0.7"/>
<line x1="40.56" y1="412.3" x2="40.56" y2="413.5" stroke="#444" stroke-width="0.7"/>
<line x1="44.02" y1="412.3" x2="44.02" y2="413.5" stroke="#444" stroke-width="0.7"/>
<line x1="47.480000000000004" y1="412.3" x2="47.480000000000004" y2="413.5" stroke="#444" stroke-width="0.7"/>
<line x1="50.94" y1="412.3" x2="50.94" y2="413.5" stroke="#444" stroke-width="0.7"/>
<line x1="54.400000000000006" y1="412.3" x2="54.400000000000006" y2="413.5" stroke="#444" stroke-width="0.7"/>
<line x1="57.86" y1="412.3" x2="57.86" y2="413.5" stroke="#444" stroke-width="0.7"/>
<line x1="61.31999999999999" y1="412.3" x2="61.31999999999999" y2="413.5" stroke="#444" stroke-width="0.7"/>
<line x1="64.78" y1="412.3" x2="64.78" y2="413.5" stroke="#444" stroke-width="0.7"/>
<line x1="68.24000000000001" y1="412.3" x2="68.24000000000001" y2="413.5" stroke="#444" stroke-width="0.7"/>
<line x1="71.7" y1="412.3" x2="71.7" y2="413.5" stroke="#444" stroke-width="0.7"/>
<line x1="75.16" y1="412.3" x2="75.16" y2="413.5" stroke="#444" stroke-width="0.7"/>
<line x1="78.62" y1="412.3" x2="78.62" y2="413.5" stroke="#444" stroke-width="0.7"/>
<line x1="82.08" y1="412.3" x2="82.08" y2="413.5" stroke="#444" stroke-width="0.7"/>
<line x1="85.53999999999999" y1="412.3" x2="85.53999999999999" y2="413.5" stroke="#444" stroke-width="0.7"/>
<line x1="89.0" y1="412.3" x2="89.0" y2="413.5" stroke="#444" stroke-width="0.7"/>
<line x1="92.46" y1="412.3" x2="92.46" y2="413.5" stroke="#444" stroke-width="0.7"/>
<line x1="95.91999999999999" y1="412.3" x2="95.91999999999999" y2="413.5" stroke="#444" stroke-width="0.7"/>
<line x1="99.38" y1="412.3" x2="99.38" y2="413.5" stroke="#444" stroke-width="0.7"/>
<line x1="102.83999999999999" y1="412.3" x2="102.83999999999999" y2="413.5" stroke="#444" stroke-width="0.7"/>
<line x1="106.3" y1="412.3" x2="106.3" y2="413.5" stroke="#444" stroke-width="0.7"/>
<line x1="109.75999999999999" y1="412.3" x2="109.75999999999999" y2="413.5" stroke="#444" stroke-width="0.7"/>
<line x1="113.22" y1="412.3" x2="113.22" y2="413.5" stroke="#444" stroke-width="0.7"/>
<line x1="116.68" y1="412.3" x2="116.68" y2="413.5" stroke="#444" stroke-width="0.7"/>
<line x1="120.13999999999999" y1="412.3" x2="120.13999999999999" y2="413.5" stroke="#444" stroke-width="0.7"/>
<text x="16.0" y="332.84999999999997" font-size="6.9" text-anchor="end" font-weight="bold" fill="#111" color="#111">10</text>
<text x="16.0" y="353.325" font-size="6.9" text-anchor="end" font-weight="bold" fill="#111" color="#111">8</text>
<text x="16.0" y="373.8" font-size="6.9" text-anchor="end" font-weight="bold" fill="#111" color="#111">5</text>
<text x="16.0" y="394.275" font-size="6.9" text-anchor="end" font-weight="bold" fill="#111" color="#111">3</text>
<text x="16.0" y="414.75" font-size="6.9" text-anchor="end" font-weight="bold" fill="#111" color="#111">0</text>
<text x="15.8" y="426.6" font-size="6.0" text-anchor="start" font-weight="bold" fill="#111" color="#111">-</text>
<text x="18" y="426.6" font-size="6.6" text-anchor="start" font-weight="bold" fill="#111" color="#111">10<tspan font-size="5" dx="1" dy="-4.4">2</tspan></text>
<text x="37.3" y="426.6" font-size="6.6" text-anchor="start" font-weight="bold" fill="#111" color="#111">10<tspan font-size="5" dx="1" dy="-4.4">2</tspan></text>
<text x="63.1" y="426.6" font-size="6.6" text-anchor="start" font-weight="bold" fill="#111" color="#111">10<tspan font-size="5" dx="1" dy="-4.4">3</tspan></text>
<text x="88.5" y="426.6" font-size="6.6" text-anchor="start" font-weight="bold" fill="#111" color="#111">10<tspan font-size="5" dx="1" dy="-4.4">4</tspan></text>
<text x="111.6" y="426.6" font-size="6.6" text-anchor="start" font-weight="bold" fill="#111" color="#111">10<tspan font-size="5" dx="1" dy="-4.4">5</tspan></text>
<line x1="25" y1="350.5" x2="85.75" y2="350.5" stroke="#222" stroke-width="1.35"/>
<line x1="25" y1="346.0" x2="25" y2="355.0" stroke="#222" stroke-width="1.35"/>
<line x1="85.75" y1="346.0" x2="85.75" y2="355.0" stroke="#222" stroke-width="1.35"/>
<text x="56" y="348.3" font-size="7.9" text-anchor="middle" font-weight="bold" fill="#111" color="#111">0.00%</text>
<path d="M139.5 330.4 H242.7 V412.7" fill="none" stroke="#777" stroke-width="1.1"/>
<path d="M200.00 412.70 C201.33 412.65 205.28 412.90 208.00 412.40 C210.72 411.90 214.38 411.23 216.30 409.70 C218.22 408.17 218.55 405.92 219.50 403.20 C220.45 400.48 221.23 397.48 222.00 393.40 C222.77 389.32 223.43 382.37 224.10 378.70 C224.77 375.03 225.27 373.08 226.00 371.40 C226.73 369.72 227.87 368.60 228.50 368.60 C229.13 368.60 229.25 369.17 229.80 371.40 C230.35 373.63 231.07 377.78 231.80 382.00 C232.53 386.22 233.40 393.17 234.20 396.70 C235.00 400.23 235.18 400.90 236.60 403.20 C238.02 405.50 241.68 409.28 242.70 410.50 L242.70 412.7 L200.00 412.7 Z" fill="url(#hm)" stroke="none"/>
<path d="M200.00 412.70 C201.33 412.65 205.28 412.90 208.00 412.40 C210.72 411.90 214.38 411.23 216.30 409.70 C218.22 408.17 218.55 405.92 219.50 403.20 C220.45 400.48 221.23 397.48 222.00 393.40 C222.77 389.32 223.43 382.37 224.10 378.70 C224.77 375.03 225.27 373.08 226.00 371.40 C226.73 369.72 227.87 368.60 228.50 368.60 C229.13 368.60 229.25 369.17 229.80 371.40 C230.35 373.63 231.07 377.78 231.80 382.00 C232.53 386.22 233.40 393.17 234.20 396.70 C235.00 400.23 235.18 400.90 236.60 403.20 C238.02 405.50 241.68 409.28 242.70 410.50" fill="none" stroke="#6a4558" stroke-width="1.2" stroke-linejoin="round"/>
<path d="M141 330.4 V412.7 H242.7" fill="none" stroke="#222" stroke-width="1.3"/>
<line x1="138.8" y1="330.4" x2="141" y2="330.4" stroke="#333" stroke-width="0.8"/>
<line x1="139.8" y1="334.515" x2="141" y2="334.515" stroke="#333" stroke-width="0.8"/>
<line x1="139.8" y1="338.63" x2="141" y2="338.63" stroke="#333" stroke-width="0.8"/>
<line x1="139.8" y1="342.745" x2="141" y2="342.745" stroke="#333" stroke-width="0.8"/>
<line x1="139.8" y1="346.85999999999996" x2="141" y2="346.85999999999996" stroke="#333" stroke-width="0.8"/>
<line x1="138.8" y1="350.97499999999997" x2="141" y2="350.97499999999997" stroke="#333" stroke-width="0.8"/>
<line x1="139.8" y1="355.09" x2="141" y2="355.09" stroke="#333" stroke-width="0.8"/>
<line x1="139.8" y1="359.205" x2="141" y2="359.205" stroke="#333" stroke-width="0.8"/>
<line x1="139.8" y1="363.32" x2="141" y2="363.32" stroke="#333" stroke-width="0.8"/>
<line x1="139.8" y1="367.435" x2="141" y2="367.435" stroke="#333" stroke-width="0.8"/>
<line x1="138.8" y1="371.54999999999995" x2="141" y2="371.54999999999995" stroke="#333" stroke-width="0.8"/>
<line x1="139.8" y1="375.66499999999996" x2="141" y2="375.66499999999996" stroke="#333" stroke-width="0.8"/>
<line x1="139.8" y1="379.78" x2="141" y2="379.78" stroke="#333" stroke-width="0.8"/>
<line x1="139.8" y1="383.895" x2="141" y2="383.895" stroke="#333" stroke-width="0.8"/>
<line x1="139.8" y1="388.01" x2="141" y2="388.01" stroke="#333" stroke-width="0.8"/>
<line x1="138.8" y1="392.125" x2="141" y2="392.125" stroke="#333" stroke-width="0.8"/>
<line x1="139.8" y1="396.24" x2="141" y2="396.24" stroke="#333" stroke-width="0.8"/>
<line x1="139.8" y1="400.355" x2="141" y2="400.355" stroke="#333" stroke-width="0.8"/>
<line x1="139.8" y1="404.46999999999997" x2="141" y2="404.46999999999997" stroke="#333" stroke-width="0.8"/>
<line x1="139.8" y1="408.585" x2="141" y2="408.585" stroke="#333" stroke-width="0.8"/>
<line x1="138.8" y1="412.7" x2="141" y2="412.7" stroke="#333" stroke-width="0.8"/>
<line x1="144.39" y1="412.7" x2="144.39" y2="413.9" stroke="#444" stroke-width="0.7"/>
<line x1="147.78" y1="412.7" x2="147.78" y2="413.9" stroke="#444" stroke-width="0.7"/>
<line x1="151.17" y1="412.7" x2="151.17" y2="413.9" stroke="#444" stroke-width="0.7"/>
<line x1="154.56" y1="412.7" x2="154.56" y2="413.9" stroke="#444" stroke-width="0.7"/>
<line x1="157.95" y1="412.7" x2="157.95" y2="413.9" stroke="#444" stroke-width="0.7"/>
<line x1="161.34" y1="412.7" x2="161.34" y2="413.9" stroke="#444" stroke-width="0.7"/>
<line x1="164.73" y1="412.7" x2="164.73" y2="413.9" stroke="#444" stroke-width="0.7"/>
<line x1="168.12" y1="412.7" x2="168.12" y2="413.9" stroke="#444" stroke-width="0.7"/>
<line x1="171.51" y1="412.7" x2="171.51" y2="413.9" stroke="#444" stroke-width="0.7"/>
<line x1="174.9" y1="412.7" x2="174.9" y2="413.9" stroke="#444" stroke-width="0.7"/>
<line x1="178.29" y1="412.7" x2="178.29" y2="413.9" stroke="#444" stroke-width="0.7"/>
<line x1="181.68" y1="412.7" x2="181.68" y2="413.9" stroke="#444" stroke-width="0.7"/>
<line x1="185.07" y1="412.7" x2="185.07" y2="413.9" stroke="#444" stroke-width="0.7"/>
<line x1="188.45999999999998" y1="412.7" x2="188.45999999999998" y2="413.9" stroke="#444" stroke-width="0.7"/>
<line x1="191.85" y1="412.7" x2="191.85" y2="413.9" stroke="#444" stroke-width="0.7"/>
<line x1="195.24" y1="412.7" x2="195.24" y2="413.9" stroke="#444" stroke-width="0.7"/>
<line x1="198.63" y1="412.7" x2="198.63" y2="413.9" stroke="#444" stroke-width="0.7"/>
<line x1="202.01999999999998" y1="412.7" x2="202.01999999999998" y2="413.9" stroke="#444" stroke-width="0.7"/>
<line x1="205.41" y1="412.7" x2="205.41" y2="413.9" stroke="#444" stroke-width="0.7"/>
<line x1="208.8" y1="412.7" x2="208.8" y2="413.9" stroke="#444" stroke-width="0.7"/>
<line x1="212.19" y1="412.7" x2="212.19" y2="413.9" stroke="#444" stroke-width="0.7"/>
<line x1="215.57999999999998" y1="412.7" x2="215.57999999999998" y2="413.9" stroke="#444" stroke-width="0.7"/>
<line x1="218.97" y1="412.7" x2="218.97" y2="413.9" stroke="#444" stroke-width="0.7"/>
<line x1="222.35999999999999" y1="412.7" x2="222.35999999999999" y2="413.9" stroke="#444" stroke-width="0.7"/>
<line x1="225.75" y1="412.7" x2="225.75" y2="413.9" stroke="#444" stroke-width="0.7"/>
<line x1="229.14" y1="412.7" x2="229.14" y2="413.9" stroke="#444" stroke-width="0.7"/>
<line x1="232.52999999999997" y1="412.7" x2="232.52999999999997" y2="413.9" stroke="#444" stroke-width="0.7"/>
<line x1="235.92" y1="412.7" x2="235.92" y2="413.9" stroke="#444" stroke-width="0.7"/>
<line x1="239.31" y1="412.7" x2="239.31" y2="413.9" stroke="#444" stroke-width="0.7"/>
<text x="137.2" y="332.84999999999997" font-size="6.9" text-anchor="end" font-weight="bold" fill="#111" color="#111">10</text>
<text x="137.2" y="353.42499999999995" font-size="6.9" text-anchor="end" font-weight="bold" fill="#111" color="#111">8</text>
<text x="137.2" y="373.99999999999994" font-size="6.9" text-anchor="end" font-weight="bold" fill="#111" color="#111">5</text>
<text x="137.2" y="394.575" font-size="6.9" text-anchor="end" font-weight="bold" fill="#111" color="#111">3</text>
<text x="137.2" y="415.15" font-size="6.9" text-anchor="end" font-weight="bold" fill="#111" color="#111">0</text>
<text x="137.5" y="426.6" font-size="6.0" text-anchor="start" font-weight="bold" fill="#111" color="#111">-</text>
<text x="139.7" y="426.6" font-size="6.6" text-anchor="start" font-weight="bold" fill="#111" color="#111">10<tspan font-size="5" dx="1" dy="-4.4">2</tspan></text>
<text x="157.7" y="426.6" font-size="6.6" text-anchor="start" font-weight="bold" fill="#111" color="#111">10<tspan font-size="5" dx="1" dy="-4.4">2</tspan></text>
<text x="184.3" y="426.6" font-size="6.6" text-anchor="start" font-weight="bold" fill="#111" color="#111">10<tspan font-size="5" dx="1" dy="-4.4">3</tspan></text>
<text x="209.7" y="426.6" font-size="6.6" text-anchor="start" font-weight="bold" fill="#111" color="#111">10<tspan font-size="5" dx="1" dy="-4.4">4</tspan></text>
<text x="232.8" y="426.6" font-size="6.6" text-anchor="start" font-weight="bold" fill="#111" color="#111">10<tspan font-size="5" dx="1" dy="-4.4">5</tspan></text>
<line x1="145.8" y1="351.2" x2="207.6" y2="351.2" stroke="#222" stroke-width="1.35"/>
<line x1="145.8" y1="346.7" x2="145.8" y2="355.7" stroke="#222" stroke-width="1.35"/>
<line x1="207.6" y1="346.7" x2="207.6" y2="355.7" stroke="#222" stroke-width="1.35"/>
<text x="180" y="349.0" font-size="7.9" text-anchor="middle" font-weight="bold" fill="#111" color="#111">0.29%</text>
<path d="M24.1 440.6 H125 V523" fill="none" stroke="#777" stroke-width="1.1"/>
<path d="M50.40 523.00 C51.55 522.57 55.28 521.42 57.30 520.40 C59.32 519.38 60.77 518.30 62.50 516.90 C64.23 515.50 66.27 513.73 67.70 512.00 C69.13 510.27 70.10 508.28 71.10 506.50 C72.10 504.72 72.97 503.32 73.70 501.30 C74.43 499.28 74.92 496.18 75.50 494.40 C76.08 492.62 76.63 491.32 77.20 490.60 C77.77 489.88 78.32 489.32 78.90 490.10 C79.48 490.88 79.97 492.85 80.70 495.30 C81.43 497.75 82.45 501.78 83.30 504.80 C84.15 507.82 84.80 511.62 85.80 513.40 C86.80 515.18 88.28 515.07 89.30 515.50 C90.32 515.93 91.18 515.48 91.90 516.00 C92.62 516.52 92.88 518.10 93.60 518.60 C94.32 519.10 95.33 519.57 96.20 519.00 C97.07 518.43 98.07 517.87 98.80 515.20 C99.53 512.53 100.02 507.62 100.60 503.00 C101.18 498.38 101.67 491.38 102.30 487.50 C102.93 483.62 103.77 481.15 104.40 479.70 C105.03 478.25 105.58 478.60 106.10 478.80 C106.62 479.00 107.03 480.90 107.50 480.90 C107.97 480.90 108.47 477.70 108.90 478.80 C109.33 479.90 109.62 482.58 110.10 487.50 C110.58 492.42 111.23 503.40 111.80 508.30 C112.37 513.20 112.63 514.88 113.50 516.90 C114.37 518.92 115.42 519.60 117.00 520.40 C118.58 521.20 121.67 521.27 123.00 521.70 C124.33 522.13 124.67 522.78 125.00 523.00 L125.00 523 L50.40 523 Z" fill="#d3131c" stroke="none"/>
<path d="M50.40 523.00 C51.55 522.57 55.28 521.42 57.30 520.40 C59.32 519.38 60.77 518.30 62.50 516.90 C64.23 515.50 66.27 513.73 67.70 512.00 C69.13 510.27 70.10 508.28 71.10 506.50 C72.10 504.72 72.97 503.32 73.70 501.30 C74.43 499.28 74.92 496.18 75.50 494.40 C76.08 492.62 76.63 491.32 77.20 490.60 C77.77 489.88 78.32 489.32 78.90 490.10 C79.48 490.88 79.97 492.85 80.70 495.30 C81.43 497.75 82.45 501.78 83.30 504.80 C84.15 507.82 84.80 511.62 85.80 513.40 C86.80 515.18 88.28 515.07 89.30 515.50 C90.32 515.93 91.18 515.48 91.90 516.00 C92.62 516.52 92.88 518.10 93.60 518.60 C94.32 519.10 95.33 519.57 96.20 519.00 C97.07 518.43 98.07 517.87 98.80 515.20 C99.53 512.53 100.02 507.62 100.60 503.00 C101.18 498.38 101.67 491.38 102.30 487.50 C102.93 483.62 103.77 481.15 104.40 479.70 C105.03 478.25 105.58 478.60 106.10 478.80 C106.62 479.00 107.03 480.90 107.50 480.90 C107.97 480.90 108.47 477.70 108.90 478.80 C109.33 479.90 109.62 482.58 110.10 487.50 C110.58 492.42 111.23 503.40 111.80 508.30 C112.37 513.20 112.63 514.88 113.50 516.90 C114.37 518.92 115.42 519.60 117.00 520.40 C118.58 521.20 121.67 521.27 123.00 521.70 C124.33 522.13 124.67 522.78 125.00 523.00" fill="none" stroke="#b81019" stroke-width="0.5" stroke-linejoin="round"/>
<path d="M25.6 440.6 V523 H125" fill="none" stroke="#222" stroke-width="1.3"/>
<line x1="23.400000000000002" y1="440.6" x2="25.6" y2="440.6" stroke="#333" stroke-width="0.8"/>
<line x1="24.400000000000002" y1="444.72" x2="25.6" y2="444.72" stroke="#333" stroke-width="0.8"/>
<line x1="24.400000000000002" y1="448.84000000000003" x2="25.6" y2="448.84000000000003" stroke="#333" stroke-width="0.8"/>
<line x1="24.400000000000002" y1="452.96000000000004" x2="25.6" y2="452.96000000000004" stroke="#333" stroke-width="0.8"/>
<line x1="24.400000000000002" y1="457.08000000000004" x2="25.6" y2="457.08000000000004" stroke="#333" stroke-width="0.8"/>
<line x1="23.400000000000002" y1="461.20000000000005" x2="25.6" y2="461.20000000000005" stroke="#333" stroke-width="0.8"/>
<line x1="24.400000000000002" y1="465.32" x2="25.6" y2="465.32" stroke="#333" stroke-width="0.8"/>
<line x1="24.400000000000002" y1="469.44" x2="25.6" y2="469.44" stroke="#333" stroke-width="0.8"/>
<line x1="24.400000000000002" y1="473.56" x2="25.6" y2="473.56" stroke="#333" stroke-width="0.8"/>
<line x1="24.400000000000002" y1="477.68" x2="25.6" y2="477.68" stroke="#333" stroke-width="0.8"/>
<line x1="23.400000000000002" y1="481.8" x2="25.6" y2="481.8" stroke="#333" stroke-width="0.8"/>
<line x1="24.400000000000002" y1="485.92" x2="25.6" y2="485.92" stroke="#333" stroke-width="0.8"/>
<line x1="24.400000000000002" y1="490.04" x2="25.6" y2="490.04" stroke="#333" stroke-width="0.8"/>
<line x1="24.400000000000002" y1="494.16" x2="25.6" y2="494.16" stroke="#333" stroke-width="0.8"/>
<line x1="24.400000000000002" y1="498.28000000000003" x2="25.6" y2="498.28000000000003" stroke="#333" stroke-width="0.8"/>
<line x1="23.400000000000002" y1="502.4" x2="25.6" y2="502.4" stroke="#333" stroke-width="0.8"/>
<line x1="24.400000000000002" y1="506.52" x2="25.6" y2="506.52" stroke="#333" stroke-width="0.8"/>
<line x1="24.400000000000002" y1="510.64" x2="25.6" y2="510.64" stroke="#333" stroke-width="0.8"/>
<line x1="24.400000000000002" y1="514.76" x2="25.6" y2="514.76" stroke="#333" stroke-width="0.8"/>
<line x1="24.400000000000002" y1="518.88" x2="25.6" y2="518.88" stroke="#333" stroke-width="0.8"/>
<line x1="23.400000000000002" y1="523.0" x2="25.6" y2="523.0" stroke="#333" stroke-width="0.8"/>
<line x1="28.913333333333334" y1="523" x2="28.913333333333334" y2="524.2" stroke="#444" stroke-width="0.7"/>
<line x1="32.22666666666667" y1="523" x2="32.22666666666667" y2="524.2" stroke="#444" stroke-width="0.7"/>
<line x1="35.540000000000006" y1="523" x2="35.540000000000006" y2="524.2" stroke="#444" stroke-width="0.7"/>
<line x1="38.85333333333334" y1="523" x2="38.85333333333334" y2="524.2" stroke="#444" stroke-width="0.7"/>
<line x1="42.16666666666667" y1="523" x2="42.16666666666667" y2="524.2" stroke="#444" stroke-width="0.7"/>
<line x1="45.480000000000004" y1="523" x2="45.480000000000004" y2="524.2" stroke="#444" stroke-width="0.7"/>
<line x1="48.79333333333334" y1="523" x2="48.79333333333334" y2="524.2" stroke="#444" stroke-width="0.7"/>
<line x1="52.10666666666667" y1="523" x2="52.10666666666667" y2="524.2" stroke="#444" stroke-width="0.7"/>
<line x1="55.42" y1="523" x2="55.42" y2="524.2" stroke="#444" stroke-width="0.7"/>
<line x1="58.733333333333334" y1="523" x2="58.733333333333334" y2="524.2" stroke="#444" stroke-width="0.7"/>
<line x1="62.046666666666674" y1="523" x2="62.046666666666674" y2="524.2" stroke="#444" stroke-width="0.7"/>
<line x1="65.36000000000001" y1="523" x2="65.36000000000001" y2="524.2" stroke="#444" stroke-width="0.7"/>
<line x1="68.67333333333335" y1="523" x2="68.67333333333335" y2="524.2" stroke="#444" stroke-width="0.7"/>
<line x1="71.98666666666668" y1="523" x2="71.98666666666668" y2="524.2" stroke="#444" stroke-width="0.7"/>
<line x1="75.30000000000001" y1="523" x2="75.30000000000001" y2="524.2" stroke="#444" stroke-width="0.7"/>
<line x1="78.61333333333334" y1="523" x2="78.61333333333334" y2="524.2" stroke="#444" stroke-width="0.7"/>
<line x1="81.92666666666668" y1="523" x2="81.92666666666668" y2="524.2" stroke="#444" stroke-width="0.7"/>
<line x1="85.24000000000001" y1="523" x2="85.24000000000001" y2="524.2" stroke="#444" stroke-width="0.7"/>
<line x1="88.55333333333334" y1="523" x2="88.55333333333334" y2="524.2" stroke="#444" stroke-width="0.7"/>
<line x1="91.86666666666667" y1="523" x2="91.86666666666667" y2="524.2" stroke="#444" stroke-width="0.7"/>
<line x1="95.18" y1="523" x2="95.18" y2="524.2" stroke="#444" stroke-width="0.7"/>
<line x1="98.49333333333334" y1="523" x2="98.49333333333334" y2="524.2" stroke="#444" stroke-width="0.7"/>
<line x1="101.80666666666667" y1="523" x2="101.80666666666667" y2="524.2" stroke="#444" stroke-width="0.7"/>
<line x1="105.12" y1="523" x2="105.12" y2="524.2" stroke="#444" stroke-width="0.7"/>
<line x1="108.43333333333334" y1="523" x2="108.43333333333334" y2="524.2" stroke="#444" stroke-width="0.7"/>
<line x1="111.74666666666667" y1="523" x2="111.74666666666667" y2="524.2" stroke="#444" stroke-width="0.7"/>
<line x1="115.06" y1="523" x2="115.06" y2="524.2" stroke="#444" stroke-width="0.7"/>
<line x1="118.37333333333333" y1="523" x2="118.37333333333333" y2="524.2" stroke="#444" stroke-width="0.7"/>
<line x1="121.68666666666667" y1="523" x2="121.68666666666667" y2="524.2" stroke="#444" stroke-width="0.7"/>
<text x="21.8" y="443.05" font-size="6.9" text-anchor="end" font-weight="bold" fill="#111" color="#111">100</text>
<text x="21.8" y="463.65000000000003" font-size="6.9" text-anchor="end" font-weight="bold" fill="#111" color="#111">75</text>
<text x="21.8" y="484.25" font-size="6.9" text-anchor="end" font-weight="bold" fill="#111" color="#111">50</text>
<text x="21.8" y="504.84999999999997" font-size="6.9" text-anchor="end" font-weight="bold" fill="#111" color="#111">25</text>
<text x="21.8" y="525.45" font-size="6.9" text-anchor="end" font-weight="bold" fill="#111" color="#111">0</text>
<text x="30.3" y="537.3" font-size="6.6" text-anchor="start" font-weight="bold" fill="#111" color="#111">10<tspan font-size="5" dx="1" dy="-3.8">0</tspan></text>
<text x="46.5" y="537.3" font-size="6.6" text-anchor="start" font-weight="bold" fill="#111" color="#111">10<tspan font-size="5" dx="1" dy="-3.8">1</tspan></text>
<text x="62.7" y="537.3" font-size="6.6" text-anchor="start" font-weight="bold" fill="#111" color="#111">10<tspan font-size="5" dx="1" dy="-3.8">2</tspan></text>
<text x="79.3" y="537.3" font-size="6.6" text-anchor="start" font-weight="bold" fill="#111" color="#111">10<tspan font-size="5" dx="1" dy="-3.8">3</tspan></text>
<text x="95" y="537.3" font-size="6.6" text-anchor="start" font-weight="bold" fill="#111" color="#111">10<tspan font-size="5" dx="1" dy="-3.8">4</tspan></text>
<text x="111.6" y="537.3" font-size="6.6" text-anchor="start" font-weight="bold" fill="#111" color="#111">10<tspan font-size="5" dx="1" dy="-3.8">5</tspan></text>
<line x1="32" y1="460.5" x2="97" y2="460.5" stroke="#222" stroke-width="1.35"/>
<line x1="32" y1="456.0" x2="32" y2="465.0" stroke="#222" stroke-width="1.35"/>
<line x1="97" y1="456.0" x2="97" y2="465.0" stroke="#222" stroke-width="1.35"/>
<text x="67.1" y="458.3" font-size="7.9" text-anchor="middle" font-weight="bold" fill="#111" color="#111">48.47%</text>
<path d="M139.8 440.8 H241.4 V522.7" fill="none" stroke="#777" stroke-width="1.1"/>
<path d="M160.00 522.70 C161.08 522.65 164.20 522.90 166.50 522.40 C168.80 521.90 171.83 520.45 173.80 519.70 C175.77 518.95 176.85 518.42 178.30 517.90 C179.75 517.38 181.12 516.52 182.50 516.60 C183.88 516.68 185.32 517.78 186.60 518.40 C187.88 519.02 188.53 520.13 190.20 520.30 C191.87 520.47 194.47 519.25 196.60 519.40 C198.73 519.55 200.87 520.72 203.00 521.20 C205.13 521.68 207.72 522.45 209.40 522.30 C211.08 522.15 212.03 522.32 213.10 520.30 C214.17 518.28 214.88 514.02 215.80 510.20 C216.72 506.38 217.60 500.45 218.60 497.40 C219.60 494.35 220.90 492.20 221.80 491.90 C222.70 491.60 223.17 492.55 224.00 495.60 C224.83 498.65 225.88 506.23 226.80 510.20 C227.72 514.17 228.58 517.37 229.50 519.40 C230.42 521.43 231.22 521.85 232.30 522.40 C233.38 522.95 235.38 522.65 236.00 522.70 L236.00 522.7 L160.00 522.7 Z" fill="url(#hg)" stroke="none"/>
<path d="M160.00 522.70 C161.08 522.65 164.20 522.90 166.50 522.40 C168.80 521.90 171.83 520.45 173.80 519.70 C175.77 518.95 176.85 518.42 178.30 517.90 C179.75 517.38 181.12 516.52 182.50 516.60 C183.88 516.68 185.32 517.78 186.60 518.40 C187.88 519.02 188.53 520.13 190.20 520.30 C191.87 520.47 194.47 519.25 196.60 519.40 C198.73 519.55 200.87 520.72 203.00 521.20 C205.13 521.68 207.72 522.45 209.40 522.30 C211.08 522.15 212.03 522.32 213.10 520.30 C214.17 518.28 214.88 514.02 215.80 510.20 C216.72 506.38 217.60 500.45 218.60 497.40 C219.60 494.35 220.90 492.20 221.80 491.90 C222.70 491.60 223.17 492.55 224.00 495.60 C224.83 498.65 225.88 506.23 226.80 510.20 C227.72 514.17 228.58 517.37 229.50 519.40 C230.42 521.43 231.22 521.85 232.30 522.40 C233.38 522.95 235.38 522.65 236.00 522.70" fill="none" stroke="#55693d" stroke-width="1.3" stroke-linejoin="round"/>
<path d="M141.3 440.8 V522.7 H241.4" fill="none" stroke="#222" stroke-width="1.3"/>
<line x1="139.10000000000002" y1="440.8" x2="141.3" y2="440.8" stroke="#333" stroke-width="0.8"/>
<line x1="140.10000000000002" y1="444.89500000000004" x2="141.3" y2="444.89500000000004" stroke="#333" stroke-width="0.8"/>
<line x1="140.10000000000002" y1="448.99" x2="141.3" y2="448.99" stroke="#333" stroke-width="0.8"/>
<line x1="140.10000000000002" y1="453.08500000000004" x2="141.3" y2="453.08500000000004" stroke="#333" stroke-width="0.8"/>
<line x1="140.10000000000002" y1="457.18" x2="141.3" y2="457.18" stroke="#333" stroke-width="0.8"/>
<line x1="139.10000000000002" y1="461.27500000000003" x2="141.3" y2="461.27500000000003" stroke="#333" stroke-width="0.8"/>
<line x1="140.10000000000002" y1="465.37" x2="141.3" y2="465.37" stroke="#333" stroke-width="0.8"/>
<line x1="140.10000000000002" y1="469.46500000000003" x2="141.3" y2="469.46500000000003" stroke="#333" stroke-width="0.8"/>
<line x1="140.10000000000002" y1="473.56" x2="141.3" y2="473.56" stroke="#333" stroke-width="0.8"/>
<line x1="140.10000000000002" y1="477.65500000000003" x2="141.3" y2="477.65500000000003" stroke="#333" stroke-width="0.8"/>
<line x1="139.10000000000002" y1="481.75" x2="141.3" y2="481.75" stroke="#333" stroke-width="0.8"/>
<line x1="140.10000000000002" y1="485.845" x2="141.3" y2="485.845" stroke="#333" stroke-width="0.8"/>
<line x1="140.10000000000002" y1="489.94000000000005" x2="141.3" y2="489.94000000000005" stroke="#333" stroke-width="0.8"/>
<line x1="140.10000000000002" y1="494.035" x2="141.3" y2="494.035" stroke="#333" stroke-width="0.8"/>
<line x1="140.10000000000002" y1="498.13000000000005" x2="141.3" y2="498.13000000000005" stroke="#333" stroke-width="0.8"/>
<line x1="139.10000000000002" y1="502.225" x2="141.3" y2="502.225" stroke="#333" stroke-width="0.8"/>
<line x1="140.10000000000002" y1="506.32000000000005" x2="141.3" y2="506.32000000000005" stroke="#333" stroke-width="0.8"/>
<line x1="140.10000000000002" y1="510.4150000000001" x2="141.3" y2="510.4150000000001" stroke="#333" stroke-width="0.8"/>
<line x1="140.10000000000002" y1="514.51" x2="141.3" y2="514.51" stroke="#333" stroke-width="0.8"/>
<line x1="140.10000000000002" y1="518.605" x2="141.3" y2="518.605" stroke="#333" stroke-width="0.8"/>
<line x1="139.10000000000002" y1="522.7" x2="141.3" y2="522.7" stroke="#333" stroke-width="0.8"/>
<line x1="144.63666666666668" y1="522.7" x2="144.63666666666668" y2="523.9000000000001" stroke="#444" stroke-width="0.7"/>
<line x1="147.97333333333336" y1="522.7" x2="147.97333333333336" y2="523.9000000000001" stroke="#444" stroke-width="0.7"/>
<line x1="151.31" y1="522.7" x2="151.31" y2="523.9000000000001" stroke="#444" stroke-width="0.7"/>
<line x1="154.64666666666668" y1="522.7" x2="154.64666666666668" y2="523.9000000000001" stroke="#444" stroke-width="0.7"/>
<line x1="157.98333333333335" y1="522.7" x2="157.98333333333335" y2="523.9000000000001" stroke="#444" stroke-width="0.7"/>
<line x1="161.32" y1="522.7" x2="161.32" y2="523.9000000000001" stroke="#444" stroke-width="0.7"/>
<line x1="164.65666666666667" y1="522.7" x2="164.65666666666667" y2="523.9000000000001" stroke="#444" stroke-width="0.7"/>
<line x1="167.99333333333334" y1="522.7" x2="167.99333333333334" y2="523.9000000000001" stroke="#444" stroke-width="0.7"/>
<line x1="171.33" y1="522.7" x2="171.33" y2="523.9000000000001" stroke="#444" stroke-width="0.7"/>
<line x1="174.66666666666669" y1="522.7" x2="174.66666666666669" y2="523.9000000000001" stroke="#444" stroke-width="0.7"/>
<line x1="178.00333333333333" y1="522.7" x2="178.00333333333333" y2="523.9000000000001" stroke="#444" stroke-width="0.7"/>
<line x1="181.34" y1="522.7" x2="181.34" y2="523.9000000000001" stroke="#444" stroke-width="0.7"/>
<line x1="184.67666666666668" y1="522.7" x2="184.67666666666668" y2="523.9000000000001" stroke="#444" stroke-width="0.7"/>
<line x1="188.01333333333335" y1="522.7" x2="188.01333333333335" y2="523.9000000000001" stroke="#444" stroke-width="0.7"/>
<line x1="191.35000000000002" y1="522.7" x2="191.35000000000002" y2="523.9000000000001" stroke="#444" stroke-width="0.7"/>
<line x1="194.68666666666667" y1="522.7" x2="194.68666666666667" y2="523.9000000000001" stroke="#444" stroke-width="0.7"/>
<line x1="198.02333333333334" y1="522.7" x2="198.02333333333334" y2="523.9000000000001" stroke="#444" stroke-width="0.7"/>
<line x1="201.36" y1="522.7" x2="201.36" y2="523.9000000000001" stroke="#444" stroke-width="0.7"/>
<line x1="204.69666666666666" y1="522.7" x2="204.69666666666666" y2="523.9000000000001" stroke="#444" stroke-width="0.7"/>
<line x1="208.03333333333336" y1="522.7" x2="208.03333333333336" y2="523.9000000000001" stroke="#444" stroke-width="0.7"/>
<line x1="211.37" y1="522.7" x2="211.37" y2="523.9000000000001" stroke="#444" stroke-width="0.7"/>
<line x1="214.70666666666668" y1="522.7" x2="214.70666666666668" y2="523.9000000000001" stroke="#444" stroke-width="0.7"/>
<line x1="218.04333333333335" y1="522.7" x2="218.04333333333335" y2="523.9000000000001" stroke="#444" stroke-width="0.7"/>
<line x1="221.38" y1="522.7" x2="221.38" y2="523.9000000000001" stroke="#444" stroke-width="0.7"/>
<line x1="224.7166666666667" y1="522.7" x2="224.7166666666667" y2="523.9000000000001" stroke="#444" stroke-width="0.7"/>
<line x1="228.05333333333334" y1="522.7" x2="228.05333333333334" y2="523.9000000000001" stroke="#444" stroke-width="0.7"/>
<line x1="231.39" y1="522.7" x2="231.39" y2="523.9000000000001" stroke="#444" stroke-width="0.7"/>
<line x1="234.7266666666667" y1="522.7" x2="234.7266666666667" y2="523.9000000000001" stroke="#444" stroke-width="0.7"/>
<line x1="238.06333333333333" y1="522.7" x2="238.06333333333333" y2="523.9000000000001" stroke="#444" stroke-width="0.7"/>
<text x="137.5" y="443.25" font-size="6.9" text-anchor="end" font-weight="bold" fill="#111" color="#111">100</text>
<text x="137.5" y="463.725" font-size="6.9" text-anchor="end" font-weight="bold" fill="#111" color="#111">75</text>
<text x="137.5" y="484.2" font-size="6.9" text-anchor="end" font-weight="bold" fill="#111" color="#111">50</text>
<text x="137.5" y="504.675" font-size="6.9" text-anchor="end" font-weight="bold" fill="#111" color="#111">25</text>
<text x="137.5" y="525.1500000000001" font-size="6.9" text-anchor="end" font-weight="bold" fill="#111" color="#111">0</text>
<text x="146.6" y="536.8" font-size="6.6" text-anchor="start" font-weight="bold" fill="#111" color="#111">10<tspan font-size="5" dx="1" dy="-3.8">0</tspan></text>
<text x="162.8" y="536.8" font-size="6.6" text-anchor="start" font-weight="bold" fill="#111" color="#111">10<tspan font-size="5" dx="1" dy="-3.8">1</tspan></text>
<text x="179" y="536.8" font-size="6.6" text-anchor="start" font-weight="bold" fill="#111" color="#111">10<tspan font-size="5" dx="1" dy="-3.8">2</tspan></text>
<text x="195.1" y="536.8" font-size="6.6" text-anchor="start" font-weight="bold" fill="#111" color="#111">10<tspan font-size="5" dx="1" dy="-3.8">3</tspan></text>
<text x="211.3" y="536.8" font-size="6.6" text-anchor="start" font-weight="bold" fill="#111" color="#111">10<tspan font-size="5" dx="1" dy="-3.8">4</tspan></text>
<text x="227.5" y="536.8" font-size="6.6" text-anchor="start" font-weight="bold" fill="#111" color="#111">10<tspan font-size="5" dx="1" dy="-3.8">5</tspan></text>
<line x1="147.9" y1="460.6" x2="213.3" y2="460.6" stroke="#222" stroke-width="1.35"/>
<line x1="147.9" y1="456.1" x2="147.9" y2="465.1" stroke="#222" stroke-width="1.35"/>
<line x1="213.3" y1="456.1" x2="213.3" y2="465.1" stroke="#222" stroke-width="1.35"/>
<text x="185" y="458.40000000000003" font-size="7.9" text-anchor="middle" font-weight="bold" fill="#111" color="#111">20.55%</text>
<path d="M283.8 225.5 H385.7 V307.5" fill="none" stroke="#777" stroke-width="1.1"/>
<path d="M320.00 307.50 C322.50 307.42 330.00 307.22 335.00 307.00 C340.00 306.78 346.82 306.55 350.00 306.20 C353.18 305.85 353.13 305.95 354.10 304.90 C355.07 303.85 355.32 302.95 355.80 299.90 C356.28 296.85 356.58 291.60 357.00 286.60 C357.42 281.60 357.87 275.45 358.30 269.90 C358.73 264.35 359.18 258.57 359.60 253.30 C360.02 248.03 360.40 241.85 360.80 238.30 C361.20 234.75 361.58 231.72 362.00 232.00 C362.42 232.28 362.88 235.90 363.30 240.00 C363.72 244.10 364.13 250.78 364.50 256.60 C364.87 262.42 365.15 269.63 365.50 274.90 C365.85 280.17 366.13 284.87 366.60 288.20 C367.07 291.53 367.60 292.95 368.30 294.90 C369.00 296.85 369.97 298.52 370.80 299.90 C371.63 301.28 372.05 302.23 373.30 303.20 C374.55 304.17 376.37 305.08 378.30 305.70 C380.23 306.32 383.80 306.70 384.90 306.90" fill="none" stroke="#111" stroke-width="1.3" stroke-linejoin="round"/>
<path d="M285.3 225.5 V307.5 H385.7" fill="none" stroke="#222" stroke-width="1.3"/>
<line x1="283.1" y1="225.5" x2="285.3" y2="225.5" stroke="#333" stroke-width="0.8"/>
<line x1="284.1" y1="229.6" x2="285.3" y2="229.6" stroke="#333" stroke-width="0.8"/>
<line x1="284.1" y1="233.7" x2="285.3" y2="233.7" stroke="#333" stroke-width="0.8"/>
<line x1="284.1" y1="237.8" x2="285.3" y2="237.8" stroke="#333" stroke-width="0.8"/>
<line x1="284.1" y1="241.9" x2="285.3" y2="241.9" stroke="#333" stroke-width="0.8"/>
<line x1="283.1" y1="246.0" x2="285.3" y2="246.0" stroke="#333" stroke-width="0.8"/>
<line x1="284.1" y1="250.1" x2="285.3" y2="250.1" stroke="#333" stroke-width="0.8"/>
<line x1="284.1" y1="254.2" x2="285.3" y2="254.2" stroke="#333" stroke-width="0.8"/>
<line x1="284.1" y1="258.3" x2="285.3" y2="258.3" stroke="#333" stroke-width="0.8"/>
<line x1="284.1" y1="262.4" x2="285.3" y2="262.4" stroke="#333" stroke-width="0.8"/>
<line x1="283.1" y1="266.5" x2="285.3" y2="266.5" stroke="#333" stroke-width="0.8"/>
<line x1="284.1" y1="270.6" x2="285.3" y2="270.6" stroke="#333" stroke-width="0.8"/>
<line x1="284.1" y1="274.7" x2="285.3" y2="274.7" stroke="#333" stroke-width="0.8"/>
<line x1="284.1" y1="278.8" x2="285.3" y2="278.8" stroke="#333" stroke-width="0.8"/>
<line x1="284.1" y1="282.9" x2="285.3" y2="282.9" stroke="#333" stroke-width="0.8"/>
<line x1="283.1" y1="287.0" x2="285.3" y2="287.0" stroke="#333" stroke-width="0.8"/>
<line x1="284.1" y1="291.1" x2="285.3" y2="291.1" stroke="#333" stroke-width="0.8"/>
<line x1="284.1" y1="295.2" x2="285.3" y2="295.2" stroke="#333" stroke-width="0.8"/>
<line x1="284.1" y1="299.3" x2="285.3" y2="299.3" stroke="#333" stroke-width="0.8"/>
<line x1="284.1" y1="303.4" x2="285.3" y2="303.4" stroke="#333" stroke-width="0.8"/>
<line x1="283.1" y1="307.5" x2="285.3" y2="307.5" stroke="#333" stroke-width="0.8"/>
<line x1="288.6466666666667" y1="307.5" x2="288.6466666666667" y2="308.7" stroke="#444" stroke-width="0.7"/>
<line x1="291.99333333333334" y1="307.5" x2="291.99333333333334" y2="308.7" stroke="#444" stroke-width="0.7"/>
<line x1="295.34000000000003" y1="307.5" x2="295.34000000000003" y2="308.7" stroke="#444" stroke-width="0.7"/>
<line x1="298.68666666666667" y1="307.5" x2="298.68666666666667" y2="308.7" stroke="#444" stroke-width="0.7"/>
<line x1="302.03333333333336" y1="307.5" x2="302.03333333333336" y2="308.7" stroke="#444" stroke-width="0.7"/>
<line x1="305.38" y1="307.5" x2="305.38" y2="308.7" stroke="#444" stroke-width="0.7"/>
<line x1="308.7266666666667" y1="307.5" x2="308.7266666666667" y2="308.7" stroke="#444" stroke-width="0.7"/>
<line x1="312.0733333333333" y1="307.5" x2="312.0733333333333" y2="308.7" stroke="#444" stroke-width="0.7"/>
<line x1="315.42" y1="307.5" x2="315.42" y2="308.7" stroke="#444" stroke-width="0.7"/>
<line x1="318.76666666666665" y1="307.5" x2="318.76666666666665" y2="308.7" stroke="#444" stroke-width="0.7"/>
<line x1="322.11333333333334" y1="307.5" x2="322.11333333333334" y2="308.7" stroke="#444" stroke-width="0.7"/>
<line x1="325.46" y1="307.5" x2="325.46" y2="308.7" stroke="#444" stroke-width="0.7"/>
<line x1="328.8066666666667" y1="307.5" x2="328.8066666666667" y2="308.7" stroke="#444" stroke-width="0.7"/>
<line x1="332.1533333333333" y1="307.5" x2="332.1533333333333" y2="308.7" stroke="#444" stroke-width="0.7"/>
<line x1="335.5" y1="307.5" x2="335.5" y2="308.7" stroke="#444" stroke-width="0.7"/>
<line x1="338.8466666666667" y1="307.5" x2="338.8466666666667" y2="308.7" stroke="#444" stroke-width="0.7"/>
<line x1="342.1933333333333" y1="307.5" x2="342.1933333333333" y2="308.7" stroke="#444" stroke-width="0.7"/>
<line x1="345.54" y1="307.5" x2="345.54" y2="308.7" stroke="#444" stroke-width="0.7"/>
<line x1="348.88666666666666" y1="307.5" x2="348.88666666666666" y2="308.7" stroke="#444" stroke-width="0.7"/>
<line x1="352.23333333333335" y1="307.5" x2="352.23333333333335" y2="308.7" stroke="#444" stroke-width="0.7"/>
<line x1="355.58" y1="307.5" x2="355.58" y2="308.7" stroke="#444" stroke-width="0.7"/>
<line x1="358.9266666666666" y1="307.5" x2="358.9266666666666" y2="308.7" stroke="#444" stroke-width="0.7"/>
<line x1="362.2733333333333" y1="307.5" x2="362.2733333333333" y2="308.7" stroke="#444" stroke-width="0.7"/>
<line x1="365.62" y1="307.5" x2="365.62" y2="308.7" stroke="#444" stroke-width="0.7"/>
<line x1="368.9666666666667" y1="307.5" x2="368.9666666666667" y2="308.7" stroke="#444" stroke-width="0.7"/>
<line x1="372.31333333333333" y1="307.5" x2="372.31333333333333" y2="308.7" stroke="#444" stroke-width="0.7"/>
<line x1="375.65999999999997" y1="307.5" x2="375.65999999999997" y2="308.7" stroke="#444" stroke-width="0.7"/>
<line x1="379.00666666666666" y1="307.5" x2="379.00666666666666" y2="308.7" stroke="#444" stroke-width="0.7"/>
<line x1="382.35333333333335" y1="307.5" x2="382.35333333333335" y2="308.7" stroke="#444" stroke-width="0.7"/>
<text x="281.5" y="227.95" font-size="6.9" text-anchor="end" font-weight="bold" fill="#111" color="#111">110</text>
<text x="281.5" y="248.45" font-size="6.9" text-anchor="end" font-weight="bold" fill="#111" color="#111">83</text>
<text x="281.5" y="268.95" font-size="6.9" text-anchor="end" font-weight="bold" fill="#111" color="#111">55</text>
<text x="281.5" y="289.45" font-size="6.9" text-anchor="end" font-weight="bold" fill="#111" color="#111">28</text>
<text x="281.5" y="309.95" font-size="6.9" text-anchor="end" font-weight="bold" fill="#111" color="#111">0</text>
<text x="288.5" y="321.2" font-size="6.6" text-anchor="start" font-weight="bold" fill="#111" color="#111">10<tspan font-size="5" dx="1" dy="-4.4">0</tspan></text>
<text x="305.1" y="321.2" font-size="6.6" text-anchor="start" font-weight="bold" fill="#111" color="#111">10<tspan font-size="5" dx="1" dy="-4.4">1</tspan></text>
<text x="322" y="321.2" font-size="6.6" text-anchor="start" font-weight="bold" fill="#111" color="#111">10<tspan font-size="5" dx="1" dy="-4.4">2</tspan></text>
<text x="338.8" y="321.2" font-size="6.6" text-anchor="start" font-weight="bold" fill="#111" color="#111">10<tspan font-size="5" dx="1" dy="-4.4">3</tspan></text>
<text x="355" y="321.2" font-size="6.6" text-anchor="start" font-weight="bold" fill="#111" color="#111">10<tspan font-size="5" dx="1" dy="-4.4">4</tspan></text>
<text x="371.6" y="321.2" font-size="6.6" text-anchor="start" font-weight="bold" fill="#111" color="#111">10</text>
<line x1="293.7" y1="253.8" x2="344.8" y2="253.8" stroke="#222" stroke-width="1.35"/>
<line x1="293.7" y1="249.3" x2="293.7" y2="258.3" stroke="#222" stroke-width="1.35"/>
<line x1="344.8" y1="249.3" x2="344.8" y2="258.3" stroke="#222" stroke-width="1.35"/>
<text x="320.8" y="251.60000000000002" font-size="7.9" text-anchor="middle" font-weight="bold" fill="#111" color="#111">0.82%</text>
<path d="M403.0 226 H505.3 V307.2" fill="none" stroke="#777" stroke-width="1.1"/>
<path d="M455.00 307.20 C457.22 307.12 465.12 307.08 468.30 306.70 C471.48 306.32 472.85 306.03 474.10 304.90 C475.35 303.77 475.30 302.40 475.80 299.90 C476.30 297.40 476.68 294.90 477.10 289.90 C477.52 284.90 477.88 276.55 478.30 269.90 C478.72 263.25 479.23 255.55 479.60 250.00 C479.97 244.45 480.22 240.15 480.50 236.60 C480.78 233.05 481.03 228.70 481.30 228.70 C481.57 228.70 481.77 232.50 482.10 236.60 C482.43 240.70 482.88 246.92 483.30 253.30 C483.72 259.68 484.18 268.53 484.60 274.90 C485.02 281.27 485.33 287.33 485.80 291.50 C486.27 295.67 486.57 297.82 487.40 299.90 C488.23 301.98 488.98 302.95 490.80 304.00 C492.62 305.05 495.95 305.75 498.30 306.20 C500.65 306.65 503.80 306.62 504.90 306.70 L504.90 307.2 L455.00 307.2 Z" fill="url(#hb)" stroke="none"/>
<path d="M455.00 307.20 C457.22 307.12 465.12 307.08 468.30 306.70 C471.48 306.32 472.85 306.03 474.10 304.90 C475.35 303.77 475.30 302.40 475.80 299.90 C476.30 297.40 476.68 294.90 477.10 289.90 C477.52 284.90 477.88 276.55 478.30 269.90 C478.72 263.25 479.23 255.55 479.60 250.00 C479.97 244.45 480.22 240.15 480.50 236.60 C480.78 233.05 481.03 228.70 481.30 228.70 C481.57 228.70 481.77 232.50 482.10 236.60 C482.43 240.70 482.88 246.92 483.30 253.30 C483.72 259.68 484.18 268.53 484.60 274.90 C485.02 281.27 485.33 287.33 485.80 291.50 C486.27 295.67 486.57 297.82 487.40 299.90 C488.23 301.98 488.98 302.95 490.80 304.00 C492.62 305.05 495.95 305.75 498.30 306.20 C500.65 306.65 503.80 306.62 504.90 306.70" fill="none" stroke="#383880" stroke-width="1.3" stroke-linejoin="round"/>
<path d="M404.5 226 V307.2 H505.3" fill="none" stroke="#222" stroke-width="1.3"/>
<line x1="402.3" y1="226.0" x2="404.5" y2="226.0" stroke="#333" stroke-width="0.8"/>
<line x1="403.3" y1="230.06" x2="404.5" y2="230.06" stroke="#333" stroke-width="0.8"/>
<line x1="403.3" y1="234.12" x2="404.5" y2="234.12" stroke="#333" stroke-width="0.8"/>
<line x1="403.3" y1="238.18" x2="404.5" y2="238.18" stroke="#333" stroke-width="0.8"/>
<line x1="403.3" y1="242.24" x2="404.5" y2="242.24" stroke="#333" stroke-width="0.8"/>
<line x1="402.3" y1="246.3" x2="404.5" y2="246.3" stroke="#333" stroke-width="0.8"/>
<line x1="403.3" y1="250.35999999999999" x2="404.5" y2="250.35999999999999" stroke="#333" stroke-width="0.8"/>
<line x1="403.3" y1="254.42" x2="404.5" y2="254.42" stroke="#333" stroke-width="0.8"/>
<line x1="403.3" y1="258.48" x2="404.5" y2="258.48" stroke="#333" stroke-width="0.8"/>
<line x1="403.3" y1="262.54" x2="404.5" y2="262.54" stroke="#333" stroke-width="0.8"/>
<line x1="402.3" y1="266.6" x2="404.5" y2="266.6" stroke="#333" stroke-width="0.8"/>
<line x1="403.3" y1="270.65999999999997" x2="404.5" y2="270.65999999999997" stroke="#333" stroke-width="0.8"/>
<line x1="403.3" y1="274.71999999999997" x2="404.5" y2="274.71999999999997" stroke="#333" stroke-width="0.8"/>
<line x1="403.3" y1="278.78" x2="404.5" y2="278.78" stroke="#333" stroke-width="0.8"/>
<line x1="403.3" y1="282.84" x2="404.5" y2="282.84" stroke="#333" stroke-width="0.8"/>
<line x1="402.3" y1="286.9" x2="404.5" y2="286.9" stroke="#333" stroke-width="0.8"/>
<line x1="403.3" y1="290.96" x2="404.5" y2="290.96" stroke="#333" stroke-width="0.8"/>
<line x1="403.3" y1="295.02" x2="404.5" y2="295.02" stroke="#333" stroke-width="0.8"/>
<line x1="403.3" y1="299.08" x2="404.5" y2="299.08" stroke="#333" stroke-width="0.8"/>
<line x1="403.3" y1="303.14" x2="404.5" y2="303.14" stroke="#333" stroke-width="0.8"/>
<line x1="402.3" y1="307.2" x2="404.5" y2="307.2" stroke="#333" stroke-width="0.8"/>
<line x1="407.86" y1="307.2" x2="407.86" y2="308.4" stroke="#444" stroke-width="0.7"/>
<line x1="411.22" y1="307.2" x2="411.22" y2="308.4" stroke="#444" stroke-width="0.7"/>
<line x1="414.58" y1="307.2" x2="414.58" y2="308.4" stroke="#444" stroke-width="0.7"/>
<line x1="417.94" y1="307.2" x2="417.94" y2="308.4" stroke="#444" stroke-width="0.7"/>
<line x1="421.3" y1="307.2" x2="421.3" y2="308.4" stroke="#444" stroke-width="0.7"/>
<line x1="424.66" y1="307.2" x2="424.66" y2="308.4" stroke="#444" stroke-width="0.7"/>
<line x1="428.02" y1="307.2" x2="428.02" y2="308.4" stroke="#444" stroke-width="0.7"/>
<line x1="431.38" y1="307.2" x2="431.38" y2="308.4" stroke="#444" stroke-width="0.7"/>
<line x1="434.74" y1="307.2" x2="434.74" y2="308.4" stroke="#444" stroke-width="0.7"/>
<line x1="438.1" y1="307.2" x2="438.1" y2="308.4" stroke="#444" stroke-width="0.7"/>
<line x1="441.46000000000004" y1="307.2" x2="441.46000000000004" y2="308.4" stroke="#444" stroke-width="0.7"/>
<line x1="444.82" y1="307.2" x2="444.82" y2="308.4" stroke="#444" stroke-width="0.7"/>
<line x1="448.18" y1="307.2" x2="448.18" y2="308.4" stroke="#444" stroke-width="0.7"/>
<line x1="451.54" y1="307.2" x2="451.54" y2="308.4" stroke="#444" stroke-width="0.7"/>
<line x1="454.9" y1="307.2" x2="454.9" y2="308.4" stroke="#444" stroke-width="0.7"/>
<line x1="458.26" y1="307.2" x2="458.26" y2="308.4" stroke="#444" stroke-width="0.7"/>
<line x1="461.62" y1="307.2" x2="461.62" y2="308.4" stroke="#444" stroke-width="0.7"/>
<line x1="464.98" y1="307.2" x2="464.98" y2="308.4" stroke="#444" stroke-width="0.7"/>
<line x1="468.34000000000003" y1="307.2" x2="468.34000000000003" y2="308.4" stroke="#444" stroke-width="0.7"/>
<line x1="471.7" y1="307.2" x2="471.7" y2="308.4" stroke="#444" stroke-width="0.7"/>
<line x1="475.06" y1="307.2" x2="475.06" y2="308.4" stroke="#444" stroke-width="0.7"/>
<line x1="478.42" y1="307.2" x2="478.42" y2="308.4" stroke="#444" stroke-width="0.7"/>
<line x1="481.78" y1="307.2" x2="481.78" y2="308.4" stroke="#444" stroke-width="0.7"/>
<line x1="485.14" y1="307.2" x2="485.14" y2="308.4" stroke="#444" stroke-width="0.7"/>
<line x1="488.5" y1="307.2" x2="488.5" y2="308.4" stroke="#444" stroke-width="0.7"/>
<line x1="491.86" y1="307.2" x2="491.86" y2="308.4" stroke="#444" stroke-width="0.7"/>
<line x1="495.22" y1="307.2" x2="495.22" y2="308.4" stroke="#444" stroke-width="0.7"/>
<line x1="498.58000000000004" y1="307.2" x2="498.58000000000004" y2="308.4" stroke="#444" stroke-width="0.7"/>
<line x1="501.94" y1="307.2" x2="501.94" y2="308.4" stroke="#444" stroke-width="0.7"/>
<text x="400.7" y="228.45" font-size="6.9" text-anchor="end" font-weight="bold" fill="#111" color="#111">110</text>
<text x="400.7" y="248.75" font-size="6.9" text-anchor="end" font-weight="bold" fill="#111" color="#111">83</text>
<text x="400.7" y="269.05" font-size="6.9" text-anchor="end" font-weight="bold" fill="#111" color="#111">55</text>
<text x="400.7" y="289.34999999999997" font-size="6.9" text-anchor="end" font-weight="bold" fill="#111" color="#111">28</text>
<text x="400.7" y="309.65" font-size="6.9" text-anchor="end" font-weight="bold" fill="#111" color="#111">0</text>
<text x="408.9" y="321.6" font-size="6.6" text-anchor="start" font-weight="bold" fill="#111" color="#111">10<tspan font-size="5" dx="1" dy="-4.4">0</tspan></text>
<text x="425" y="321.6" font-size="6.6" text-anchor="start" font-weight="bold" fill="#111" color="#111">10<tspan font-size="5" dx="1" dy="-4.4">1</tspan></text>
<text x="441.2" y="321.6" font-size="6.6" text-anchor="start" font-weight="bold" fill="#111" color="#111">10<tspan font-size="5" dx="1" dy="-4.4">2</tspan></text>
<text x="457.8" y="321.6" font-size="6.6" text-anchor="start" font-weight="bold" fill="#111" color="#111">10<tspan font-size="5" dx="1" dy="-4.4">3</tspan></text>
<text x="474" y="321.6" font-size="6.6" text-anchor="start" font-weight="bold" fill="#111" color="#111">10<tspan font-size="5" dx="1" dy="-4.4">4</tspan></text>
<text x="490.2" y="321.6" font-size="6.6" text-anchor="start" font-weight="bold" fill="#111" color="#111">10<tspan font-size="5" dx="1" dy="-4.4">5</tspan></text>
<line x1="413" y1="253.6" x2="464.2" y2="253.6" stroke="#222" stroke-width="1.35"/>
<line x1="413" y1="249.1" x2="413" y2="258.1" stroke="#222" stroke-width="1.35"/>
<line x1="464.2" y1="249.1" x2="464.2" y2="258.1" stroke="#222" stroke-width="1.35"/>
<text x="438" y="251.4" font-size="7.9" text-anchor="middle" font-weight="bold" fill="#111" color="#111">0.11%</text>
<path d="M283.5 330 H387.3 V412.5" fill="none" stroke="#777" stroke-width="1.1"/>
<path d="M345.00 412.50 C346.25 412.47 350.70 413.27 352.50 412.30 C354.30 411.33 354.83 409.03 355.80 406.70 C356.77 404.37 357.47 400.53 358.30 398.30 C359.13 396.07 360.02 395.23 360.80 393.30 C361.58 391.37 362.35 389.75 363.00 386.70 C363.65 383.65 364.23 379.73 364.70 375.00 C365.17 370.27 365.33 363.30 365.80 358.30 C366.27 353.30 366.85 349.17 367.50 345.00 C368.15 340.83 369.15 334.42 369.70 333.30 C370.25 332.18 370.33 334.13 370.80 338.30 C371.27 342.47 371.93 351.35 372.50 358.30 C373.07 365.25 373.65 373.60 374.20 380.00 C374.75 386.40 375.12 391.98 375.80 396.70 C376.48 401.42 377.32 405.80 378.30 408.30 C379.28 410.80 380.20 411.00 381.70 411.70 C383.20 412.40 386.37 412.37 387.30 412.50" fill="none" stroke="#a8a8a8" stroke-width="1.2" stroke-linejoin="round"/>
<path d="M285 330 V412.5 H387.3" fill="none" stroke="#222" stroke-width="1.3"/>
<line x1="282.8" y1="330.0" x2="285" y2="330.0" stroke="#333" stroke-width="0.8"/>
<line x1="283.8" y1="334.125" x2="285" y2="334.125" stroke="#333" stroke-width="0.8"/>
<line x1="283.8" y1="338.25" x2="285" y2="338.25" stroke="#333" stroke-width="0.8"/>
<line x1="283.8" y1="342.375" x2="285" y2="342.375" stroke="#333" stroke-width="0.8"/>
<line x1="283.8" y1="346.5" x2="285" y2="346.5" stroke="#333" stroke-width="0.8"/>
<line x1="282.8" y1="350.625" x2="285" y2="350.625" stroke="#333" stroke-width="0.8"/>
<line x1="283.8" y1="354.75" x2="285" y2="354.75" stroke="#333" stroke-width="0.8"/>
<line x1="283.8" y1="358.875" x2="285" y2="358.875" stroke="#333" stroke-width="0.8"/>
<line x1="283.8" y1="363.0" x2="285" y2="363.0" stroke="#333" stroke-width="0.8"/>
<line x1="283.8" y1="367.125" x2="285" y2="367.125" stroke="#333" stroke-width="0.8"/>
<line x1="282.8" y1="371.25" x2="285" y2="371.25" stroke="#333" stroke-width="0.8"/>
<line x1="283.8" y1="375.375" x2="285" y2="375.375" stroke="#333" stroke-width="0.8"/>
<line x1="283.8" y1="379.5" x2="285" y2="379.5" stroke="#333" stroke-width="0.8"/>
<line x1="283.8" y1="383.625" x2="285" y2="383.625" stroke="#333" stroke-width="0.8"/>
<line x1="283.8" y1="387.75" x2="285" y2="387.75" stroke="#333" stroke-width="0.8"/>
<line x1="282.8" y1="391.875" x2="285" y2="391.875" stroke="#333" stroke-width="0.8"/>
<line x1="283.8" y1="396.0" x2="285" y2="396.0" stroke="#333" stroke-width="0.8"/>
<line x1="283.8" y1="400.125" x2="285" y2="400.125" stroke="#333" stroke-width="0.8"/>
<line x1="283.8" y1="404.25" x2="285" y2="404.25" stroke="#333" stroke-width="0.8"/>
<line x1="283.8" y1="408.375" x2="285" y2="408.375" stroke="#333" stroke-width="0.8"/>
<line x1="282.8" y1="412.5" x2="285" y2="412.5" stroke="#333" stroke-width="0.8"/>
<line x1="288.41" y1="412.5" x2="288.41" y2="413.7" stroke="#444" stroke-width="0.7"/>
<line x1="291.82" y1="412.5" x2="291.82" y2="413.7" stroke="#444" stroke-width="0.7"/>
<line x1="295.23" y1="412.5" x2="295.23" y2="413.7" stroke="#444" stroke-width="0.7"/>
<line x1="298.64" y1="412.5" x2="298.64" y2="413.7" stroke="#444" stroke-width="0.7"/>
<line x1="302.05" y1="412.5" x2="302.05" y2="413.7" stroke="#444" stroke-width="0.7"/>
<line x1="305.46" y1="412.5" x2="305.46" y2="413.7" stroke="#444" stroke-width="0.7"/>
<line x1="308.87" y1="412.5" x2="308.87" y2="413.7" stroke="#444" stroke-width="0.7"/>
<line x1="312.28000000000003" y1="412.5" x2="312.28000000000003" y2="413.7" stroke="#444" stroke-width="0.7"/>
<line x1="315.69" y1="412.5" x2="315.69" y2="413.7" stroke="#444" stroke-width="0.7"/>
<line x1="319.1" y1="412.5" x2="319.1" y2="413.7" stroke="#444" stroke-width="0.7"/>
<line x1="322.51" y1="412.5" x2="322.51" y2="413.7" stroke="#444" stroke-width="0.7"/>
<line x1="325.92" y1="412.5" x2="325.92" y2="413.7" stroke="#444" stroke-width="0.7"/>
<line x1="329.33" y1="412.5" x2="329.33" y2="413.7" stroke="#444" stroke-width="0.7"/>
<line x1="332.74" y1="412.5" x2="332.74" y2="413.7" stroke="#444" stroke-width="0.7"/>
<line x1="336.15" y1="412.5" x2="336.15" y2="413.7" stroke="#444" stroke-width="0.7"/>
<line x1="339.56" y1="412.5" x2="339.56" y2="413.7" stroke="#444" stroke-width="0.7"/>
<line x1="342.97" y1="412.5" x2="342.97" y2="413.7" stroke="#444" stroke-width="0.7"/>
<line x1="346.38" y1="412.5" x2="346.38" y2="413.7" stroke="#444" stroke-width="0.7"/>
<line x1="349.79" y1="412.5" x2="349.79" y2="413.7" stroke="#444" stroke-width="0.7"/>
<line x1="353.2" y1="412.5" x2="353.2" y2="413.7" stroke="#444" stroke-width="0.7"/>
<line x1="356.61" y1="412.5" x2="356.61" y2="413.7" stroke="#444" stroke-width="0.7"/>
<line x1="360.02" y1="412.5" x2="360.02" y2="413.7" stroke="#444" stroke-width="0.7"/>
<line x1="363.43" y1="412.5" x2="363.43" y2="413.7" stroke="#444" stroke-width="0.7"/>
<line x1="366.84000000000003" y1="412.5" x2="366.84000000000003" y2="413.7" stroke="#444" stroke-width="0.7"/>
<line x1="370.25" y1="412.5" x2="370.25" y2="413.7" stroke="#444" stroke-width="0.7"/>
<line x1="373.66" y1="412.5" x2="373.66" y2="413.7" stroke="#444" stroke-width="0.7"/>
<line x1="377.07" y1="412.5" x2="377.07" y2="413.7" stroke="#444" stroke-width="0.7"/>
<line x1="380.48" y1="412.5" x2="380.48" y2="413.7" stroke="#444" stroke-width="0.7"/>
<line x1="383.89" y1="412.5" x2="383.89" y2="413.7" stroke="#444" stroke-width="0.7"/>
<text x="281.2" y="332.45" font-size="6.9" text-anchor="end" font-weight="bold" fill="#111" color="#111">12</text>
<text x="281.2" y="353.075" font-size="6.9" text-anchor="end" font-weight="bold" fill="#111" color="#111">9</text>
<text x="281.2" y="373.7" font-size="6.9" text-anchor="end" font-weight="bold" fill="#111" color="#111">6</text>
<text x="281.2" y="394.325" font-size="6.9" text-anchor="end" font-weight="bold" fill="#111" color="#111">3</text>
<text x="281.2" y="414.95" font-size="6.9" text-anchor="end" font-weight="bold" fill="#111" color="#111">0</text>
<text x="288.9" y="426.6" font-size="6.6" text-anchor="start" font-weight="bold" fill="#111" color="#111">10<tspan font-size="5" dx="1" dy="-4.4">0</tspan></text>
<text x="305.8" y="426.6" font-size="6.6" text-anchor="start" font-weight="bold" fill="#111" color="#111">10<tspan font-size="5" dx="1" dy="-4.4">1</tspan></text>
<text x="322.7" y="426.6" font-size="6.6" text-anchor="start" font-weight="bold" fill="#111" color="#111">10<tspan font-size="5" dx="1" dy="-4.4">2</tspan></text>
<text x="339.7" y="426.6" font-size="6.6" text-anchor="start" font-weight="bold" fill="#111" color="#111">10<tspan font-size="5" dx="1" dy="-4.4">3</tspan></text>
<text x="356.6" y="426.6" font-size="6.6" text-anchor="start" font-weight="bold" fill="#111" color="#111">10<tspan font-size="5" dx="1" dy="-4.4">4</tspan></text>
<text x="373.9" y="426.6" font-size="6.6" text-anchor="start" font-weight="bold" fill="#111" color="#111">10<tspan font-size="5" dx="1" dy="-4.4">5</tspan></text>
<line x1="293.25" y1="358.75" x2="342" y2="358.75" stroke="#222" stroke-width="1.35"/>
<line x1="293.25" y1="354.25" x2="293.25" y2="363.25" stroke="#222" stroke-width="1.35"/>
<line x1="342" y1="354.25" x2="342" y2="363.25" stroke="#222" stroke-width="1.35"/>
<text x="316" y="356.55" font-size="7.9" text-anchor="middle" font-weight="bold" fill="#111" color="#111">0.00%</text>
<path d="M400.5 330.9 H504.7 V413.2" fill="none" stroke="#777" stroke-width="1.1"/>
<path d="M455.00 413.20 C456.80 413.17 463.37 413.23 465.80 413.00 C468.23 412.77 468.65 412.55 469.60 411.80 C470.55 411.05 470.93 410.18 471.50 408.50 C472.07 406.82 472.52 403.63 473.00 401.70 C473.48 399.77 473.92 398.42 474.40 396.90 C474.88 395.38 475.38 393.55 475.90 392.60 C476.42 391.65 476.95 391.03 477.50 391.20 C478.05 391.37 478.67 392.33 479.20 393.60 C479.73 394.87 480.13 397.20 480.70 398.80 C481.27 400.40 481.88 401.83 482.60 403.20 C483.32 404.57 484.12 405.97 485.00 407.00 C485.88 408.03 486.93 408.83 487.90 409.40 C488.87 409.97 489.83 409.92 490.80 410.40 C491.77 410.88 492.75 411.87 493.70 412.30 C494.65 412.73 496.03 412.88 496.50 413.00 L496.50 413.2 L455.00 413.2 Z" fill="url(#hm)" stroke="none"/>
<path d="M455.00 413.20 C456.80 413.17 463.37 413.23 465.80 413.00 C468.23 412.77 468.65 412.55 469.60 411.80 C470.55 411.05 470.93 410.18 471.50 408.50 C472.07 406.82 472.52 403.63 473.00 401.70 C473.48 399.77 473.92 398.42 474.40 396.90 C474.88 395.38 475.38 393.55 475.90 392.60 C476.42 391.65 476.95 391.03 477.50 391.20 C478.05 391.37 478.67 392.33 479.20 393.60 C479.73 394.87 480.13 397.20 480.70 398.80 C481.27 400.40 481.88 401.83 482.60 403.20 C483.32 404.57 484.12 405.97 485.00 407.00 C485.88 408.03 486.93 408.83 487.90 409.40 C488.87 409.97 489.83 409.92 490.80 410.40 C491.77 410.88 492.75 411.87 493.70 412.30 C494.65 412.73 496.03 412.88 496.50 413.00" fill="none" stroke="#6a4558" stroke-width="1.2" stroke-linejoin="round"/>
<path d="M402 330.9 V413.2 H504.7" fill="none" stroke="#222" stroke-width="1.3"/>
<line x1="399.8" y1="330.9" x2="402" y2="330.9" stroke="#333" stroke-width="0.8"/>
<line x1="400.8" y1="335.015" x2="402" y2="335.015" stroke="#333" stroke-width="0.8"/>
<line x1="400.8" y1="339.13" x2="402" y2="339.13" stroke="#333" stroke-width="0.8"/>
<line x1="400.8" y1="343.245" x2="402" y2="343.245" stroke="#333" stroke-width="0.8"/>
<line x1="400.8" y1="347.35999999999996" x2="402" y2="347.35999999999996" stroke="#333" stroke-width="0.8"/>
<line x1="399.8" y1="351.47499999999997" x2="402" y2="351.47499999999997" stroke="#333" stroke-width="0.8"/>
<line x1="400.8" y1="355.59" x2="402" y2="355.59" stroke="#333" stroke-width="0.8"/>
<line x1="400.8" y1="359.705" x2="402" y2="359.705" stroke="#333" stroke-width="0.8"/>
<line x1="400.8" y1="363.82" x2="402" y2="363.82" stroke="#333" stroke-width="0.8"/>
<line x1="400.8" y1="367.935" x2="402" y2="367.935" stroke="#333" stroke-width="0.8"/>
<line x1="399.8" y1="372.04999999999995" x2="402" y2="372.04999999999995" stroke="#333" stroke-width="0.8"/>
<line x1="400.8" y1="376.16499999999996" x2="402" y2="376.16499999999996" stroke="#333" stroke-width="0.8"/>
<line x1="400.8" y1="380.28" x2="402" y2="380.28" stroke="#333" stroke-width="0.8"/>
<line x1="400.8" y1="384.395" x2="402" y2="384.395" stroke="#333" stroke-width="0.8"/>
<line x1="400.8" y1="388.51" x2="402" y2="388.51" stroke="#333" stroke-width="0.8"/>
<line x1="399.8" y1="392.625" x2="402" y2="392.625" stroke="#333" stroke-width="0.8"/>
<line x1="400.8" y1="396.74" x2="402" y2="396.74" stroke="#333" stroke-width="0.8"/>
<line x1="400.8" y1="400.855" x2="402" y2="400.855" stroke="#333" stroke-width="0.8"/>
<line x1="400.8" y1="404.96999999999997" x2="402" y2="404.96999999999997" stroke="#333" stroke-width="0.8"/>
<line x1="400.8" y1="409.085" x2="402" y2="409.085" stroke="#333" stroke-width="0.8"/>
<line x1="399.8" y1="413.2" x2="402" y2="413.2" stroke="#333" stroke-width="0.8"/>
<line x1="405.42333333333335" y1="413.2" x2="405.42333333333335" y2="414.4" stroke="#444" stroke-width="0.7"/>
<line x1="408.8466666666667" y1="413.2" x2="408.8466666666667" y2="414.4" stroke="#444" stroke-width="0.7"/>
<line x1="412.27" y1="413.2" x2="412.27" y2="414.4" stroke="#444" stroke-width="0.7"/>
<line x1="415.6933333333333" y1="413.2" x2="415.6933333333333" y2="414.4" stroke="#444" stroke-width="0.7"/>
<line x1="419.1166666666667" y1="413.2" x2="419.1166666666667" y2="414.4" stroke="#444" stroke-width="0.7"/>
<line x1="422.54" y1="413.2" x2="422.54" y2="414.4" stroke="#444" stroke-width="0.7"/>
<line x1="425.9633333333333" y1="413.2" x2="425.9633333333333" y2="414.4" stroke="#444" stroke-width="0.7"/>
<line x1="429.38666666666666" y1="413.2" x2="429.38666666666666" y2="414.4" stroke="#444" stroke-width="0.7"/>
<line x1="432.81" y1="413.2" x2="432.81" y2="414.4" stroke="#444" stroke-width="0.7"/>
<line x1="436.23333333333335" y1="413.2" x2="436.23333333333335" y2="414.4" stroke="#444" stroke-width="0.7"/>
<line x1="439.65666666666664" y1="413.2" x2="439.65666666666664" y2="414.4" stroke="#444" stroke-width="0.7"/>
<line x1="443.08" y1="413.2" x2="443.08" y2="414.4" stroke="#444" stroke-width="0.7"/>
<line x1="446.50333333333333" y1="413.2" x2="446.50333333333333" y2="414.4" stroke="#444" stroke-width="0.7"/>
<line x1="449.9266666666667" y1="413.2" x2="449.9266666666667" y2="414.4" stroke="#444" stroke-width="0.7"/>
<line x1="453.35" y1="413.2" x2="453.35" y2="414.4" stroke="#444" stroke-width="0.7"/>
<line x1="456.7733333333333" y1="413.2" x2="456.7733333333333" y2="414.4" stroke="#444" stroke-width="0.7"/>
<line x1="460.19666666666666" y1="413.2" x2="460.19666666666666" y2="414.4" stroke="#444" stroke-width="0.7"/>
<line x1="463.62" y1="413.2" x2="463.62" y2="414.4" stroke="#444" stroke-width="0.7"/>
<line x1="467.0433333333333" y1="413.2" x2="467.0433333333333" y2="414.4" stroke="#444" stroke-width="0.7"/>
<line x1="470.4666666666667" y1="413.2" x2="470.4666666666667" y2="414.4" stroke="#444" stroke-width="0.7"/>
<line x1="473.89" y1="413.2" x2="473.89" y2="414.4" stroke="#444" stroke-width="0.7"/>
<line x1="477.31333333333333" y1="413.2" x2="477.31333333333333" y2="414.4" stroke="#444" stroke-width="0.7"/>
<line x1="480.7366666666667" y1="413.2" x2="480.7366666666667" y2="414.4" stroke="#444" stroke-width="0.7"/>
<line x1="484.15999999999997" y1="413.2" x2="484.15999999999997" y2="414.4" stroke="#444" stroke-width="0.7"/>
<line x1="487.5833333333333" y1="413.2" x2="487.5833333333333" y2="414.4" stroke="#444" stroke-width="0.7"/>
<line x1="491.00666666666666" y1="413.2" x2="491.00666666666666" y2="414.4" stroke="#444" stroke-width="0.7"/>
<line x1="494.43" y1="413.2" x2="494.43" y2="414.4" stroke="#444" stroke-width="0.7"/>
<line x1="497.8533333333333" y1="413.2" x2="497.8533333333333" y2="414.4" stroke="#444" stroke-width="0.7"/>
<line x1="501.27666666666664" y1="413.2" x2="501.27666666666664" y2="414.4" stroke="#444" stroke-width="0.7"/>
<text x="398.2" y="333.34999999999997" font-size="6.9" text-anchor="end" font-weight="bold" fill="#111" color="#111">12</text>
<text x="398.2" y="353.92499999999995" font-size="6.9" text-anchor="end" font-weight="bold" fill="#111" color="#111">9</text>
<text x="398.2" y="374.49999999999994" font-size="6.9" text-anchor="end" font-weight="bold" fill="#111" color="#111">6</text>
<text x="398.2" y="395.075" font-size="6.9" text-anchor="end" font-weight="bold" fill="#111" color="#111">3</text>
<text x="398.2" y="415.65" font-size="6.9" text-anchor="end" font-weight="bold" fill="#111" color="#111">0</text>
<text x="405.4" y="426.6" font-size="6.6" text-anchor="start" font-weight="bold" fill="#111" color="#111">10<tspan font-size="5" dx="1" dy="-4.4">0</tspan></text>
<text x="422.3" y="426.6" font-size="6.6" text-anchor="start" font-weight="bold" fill="#111" color="#111">10<tspan font-size="5" dx="1" dy="-4.4">1</tspan></text>
<text x="438.9" y="426.6" font-size="6.6" text-anchor="start" font-weight="bold" fill="#111" color="#111">10<tspan font-size="5" dx="1" dy="-4.4">2</tspan></text>
<text x="456.9" y="426.6" font-size="6.6" text-anchor="start" font-weight="bold" fill="#111" color="#111">10<tspan font-size="5" dx="1" dy="-4.4">3</tspan></text>
<text x="473.5" y="426.6" font-size="6.6" text-anchor="start" font-weight="bold" fill="#111" color="#111">10<tspan font-size="5" dx="1" dy="-4.4">4</tspan></text>
<text x="490.2" y="426.6" font-size="6.6" text-anchor="start" font-weight="bold" fill="#111" color="#111">10<tspan font-size="5" dx="1" dy="-4.4">5</tspan></text>
<line x1="409.7" y1="360.3" x2="458.5" y2="360.3" stroke="#222" stroke-width="1.35"/>
<line x1="409.7" y1="355.8" x2="409.7" y2="364.8" stroke="#222" stroke-width="1.35"/>
<line x1="458.5" y1="355.8" x2="458.5" y2="364.8" stroke="#222" stroke-width="1.35"/>
<text x="432.1" y="358.1" font-size="7.9" text-anchor="middle" font-weight="bold" fill="#111" color="#111">0.59%</text>
<path d="M281.5 441.2 H385.1 V523.8" fill="none" stroke="#777" stroke-width="1.1"/>
<path d="M300.00 523.50 C301.15 523.47 304.73 523.62 306.90 523.30 C309.07 522.98 311.42 522.08 313.00 521.60 C314.58 521.12 315.40 520.55 316.40 520.40 C317.40 520.25 318.13 521.22 319.00 520.70 C319.87 520.18 320.73 518.73 321.60 517.30 C322.47 515.87 323.33 513.98 324.20 512.10 C325.07 510.22 325.93 507.88 326.80 506.00 C327.67 504.12 328.53 502.52 329.40 500.80 C330.27 499.08 331.13 496.98 332.00 495.70 C332.87 494.42 333.78 493.48 334.60 493.10 C335.42 492.72 336.18 492.83 336.90 493.40 C337.62 493.97 338.07 495.55 338.90 496.50 C339.73 497.45 341.03 499.10 341.90 499.10 C342.77 499.10 343.45 496.98 344.10 496.50 C344.75 496.02 345.13 495.48 345.80 496.20 C346.47 496.92 347.32 498.87 348.10 500.80 C348.88 502.73 349.72 506.07 350.50 507.80 C351.28 509.53 352.13 510.77 352.80 511.20 C353.47 511.63 353.93 511.98 354.50 510.40 C355.07 508.82 355.68 505.17 356.20 501.70 C356.72 498.23 357.17 494.50 357.60 489.60 C358.03 484.70 358.30 476.40 358.80 472.30 C359.30 468.20 360.08 466.10 360.60 465.00 C361.12 463.90 361.38 465.07 361.90 465.70 C362.42 466.33 363.12 468.57 363.70 468.80 C364.28 469.03 364.92 466.80 365.40 467.10 C365.88 467.40 366.12 466.85 366.60 470.60 C367.08 474.35 367.72 483.27 368.30 489.60 C368.88 495.93 369.52 504.13 370.10 508.60 C370.68 513.07 370.80 514.52 371.80 516.40 C372.80 518.28 374.52 519.03 376.10 519.90 C377.68 520.77 379.80 521.00 381.30 521.60 C382.80 522.20 384.47 523.18 385.10 523.50 L385.10 523.8 L300.00 523.8 Z" fill="#d3131c" stroke="none"/>
<path d="M300.00 523.50 C301.15 523.47 304.73 523.62 306.90 523.30 C309.07 522.98 311.42 522.08 313.00 521.60 C314.58 521.12 315.40 520.55 316.40 520.40 C317.40 520.25 318.13 521.22 319.00 520.70 C319.87 520.18 320.73 518.73 321.60 517.30 C322.47 515.87 323.33 513.98 324.20 512.10 C325.07 510.22 325.93 507.88 326.80 506.00 C327.67 504.12 328.53 502.52 329.40 500.80 C330.27 499.08 331.13 496.98 332.00 495.70 C332.87 494.42 333.78 493.48 334.60 493.10 C335.42 492.72 336.18 492.83 336.90 493.40 C337.62 493.97 338.07 495.55 338.90 496.50 C339.73 497.45 341.03 499.10 341.90 499.10 C342.77 499.10 343.45 496.98 344.10 496.50 C344.75 496.02 345.13 495.48 345.80 496.20 C346.47 496.92 347.32 498.87 348.10 500.80 C348.88 502.73 349.72 506.07 350.50 507.80 C351.28 509.53 352.13 510.77 352.80 511.20 C353.47 511.63 353.93 511.98 354.50 510.40 C355.07 508.82 355.68 505.17 356.20 501.70 C356.72 498.23 357.17 494.50 357.60 489.60 C358.03 484.70 358.30 476.40 358.80 472.30 C359.30 468.20 360.08 466.10 360.60 465.00 C361.12 463.90 361.38 465.07 361.90 465.70 C362.42 466.33 363.12 468.57 363.70 468.80 C364.28 469.03 364.92 466.80 365.40 467.10 C365.88 467.40 366.12 466.85 366.60 470.60 C367.08 474.35 367.72 483.27 368.30 489.60 C368.88 495.93 369.52 504.13 370.10 508.60 C370.68 513.07 370.80 514.52 371.80 516.40 C372.80 518.28 374.52 519.03 376.10 519.90 C377.68 520.77 379.80 521.00 381.30 521.60 C382.80 522.20 384.47 523.18 385.10 523.50" fill="none" stroke="#b81019" stroke-width="0.5" stroke-linejoin="round"/>
<path d="M283 441.2 V523.8 H385.1" fill="none" stroke="#222" stroke-width="1.3"/>
<line x1="280.8" y1="441.2" x2="283" y2="441.2" stroke="#333" stroke-width="0.8"/>
<line x1="281.8" y1="445.33" x2="283" y2="445.33" stroke="#333" stroke-width="0.8"/>
<line x1="281.8" y1="449.46" x2="283" y2="449.46" stroke="#333" stroke-width="0.8"/>
<line x1="281.8" y1="453.59" x2="283" y2="453.59" stroke="#333" stroke-width="0.8"/>
<line x1="281.8" y1="457.71999999999997" x2="283" y2="457.71999999999997" stroke="#333" stroke-width="0.8"/>
<line x1="280.8" y1="461.84999999999997" x2="283" y2="461.84999999999997" stroke="#333" stroke-width="0.8"/>
<line x1="281.8" y1="465.97999999999996" x2="283" y2="465.97999999999996" stroke="#333" stroke-width="0.8"/>
<line x1="281.8" y1="470.10999999999996" x2="283" y2="470.10999999999996" stroke="#333" stroke-width="0.8"/>
<line x1="281.8" y1="474.23999999999995" x2="283" y2="474.23999999999995" stroke="#333" stroke-width="0.8"/>
<line x1="281.8" y1="478.36999999999995" x2="283" y2="478.36999999999995" stroke="#333" stroke-width="0.8"/>
<line x1="280.8" y1="482.5" x2="283" y2="482.5" stroke="#333" stroke-width="0.8"/>
<line x1="281.8" y1="486.63" x2="283" y2="486.63" stroke="#333" stroke-width="0.8"/>
<line x1="281.8" y1="490.76" x2="283" y2="490.76" stroke="#333" stroke-width="0.8"/>
<line x1="281.8" y1="494.89" x2="283" y2="494.89" stroke="#333" stroke-width="0.8"/>
<line x1="281.8" y1="499.02" x2="283" y2="499.02" stroke="#333" stroke-width="0.8"/>
<line x1="280.8" y1="503.15" x2="283" y2="503.15" stroke="#333" stroke-width="0.8"/>
<line x1="281.8" y1="507.28" x2="283" y2="507.28" stroke="#333" stroke-width="0.8"/>
<line x1="281.8" y1="511.40999999999997" x2="283" y2="511.40999999999997" stroke="#333" stroke-width="0.8"/>
<line x1="281.8" y1="515.54" x2="283" y2="515.54" stroke="#333" stroke-width="0.8"/>
<line x1="281.8" y1="519.67" x2="283" y2="519.67" stroke="#333" stroke-width="0.8"/>
<line x1="280.8" y1="523.8" x2="283" y2="523.8" stroke="#333" stroke-width="0.8"/>
<line x1="286.4033333333333" y1="523.8" x2="286.4033333333333" y2="525.0" stroke="#444" stroke-width="0.7"/>
<line x1="289.8066666666667" y1="523.8" x2="289.8066666666667" y2="525.0" stroke="#444" stroke-width="0.7"/>
<line x1="293.21" y1="523.8" x2="293.21" y2="525.0" stroke="#444" stroke-width="0.7"/>
<line x1="296.61333333333334" y1="523.8" x2="296.61333333333334" y2="525.0" stroke="#444" stroke-width="0.7"/>
<line x1="300.01666666666665" y1="523.8" x2="300.01666666666665" y2="525.0" stroke="#444" stroke-width="0.7"/>
<line x1="303.42" y1="523.8" x2="303.42" y2="525.0" stroke="#444" stroke-width="0.7"/>
<line x1="306.8233333333333" y1="523.8" x2="306.8233333333333" y2="525.0" stroke="#444" stroke-width="0.7"/>
<line x1="310.2266666666667" y1="523.8" x2="310.2266666666667" y2="525.0" stroke="#444" stroke-width="0.7"/>
<line x1="313.63" y1="523.8" x2="313.63" y2="525.0" stroke="#444" stroke-width="0.7"/>
<line x1="317.03333333333336" y1="523.8" x2="317.03333333333336" y2="525.0" stroke="#444" stroke-width="0.7"/>
<line x1="320.43666666666667" y1="523.8" x2="320.43666666666667" y2="525.0" stroke="#444" stroke-width="0.7"/>
<line x1="323.84000000000003" y1="523.8" x2="323.84000000000003" y2="525.0" stroke="#444" stroke-width="0.7"/>
<line x1="327.24333333333334" y1="523.8" x2="327.24333333333334" y2="525.0" stroke="#444" stroke-width="0.7"/>
<line x1="330.64666666666665" y1="523.8" x2="330.64666666666665" y2="525.0" stroke="#444" stroke-width="0.7"/>
<line x1="334.05" y1="523.8" x2="334.05" y2="525.0" stroke="#444" stroke-width="0.7"/>
<line x1="337.4533333333334" y1="523.8" x2="337.4533333333334" y2="525.0" stroke="#444" stroke-width="0.7"/>
<line x1="340.8566666666667" y1="523.8" x2="340.8566666666667" y2="525.0" stroke="#444" stroke-width="0.7"/>
<line x1="344.26" y1="523.8" x2="344.26" y2="525.0" stroke="#444" stroke-width="0.7"/>
<line x1="347.66333333333336" y1="523.8" x2="347.66333333333336" y2="525.0" stroke="#444" stroke-width="0.7"/>
<line x1="351.06666666666666" y1="523.8" x2="351.06666666666666" y2="525.0" stroke="#444" stroke-width="0.7"/>
<line x1="354.47" y1="523.8" x2="354.47" y2="525.0" stroke="#444" stroke-width="0.7"/>
<line x1="357.87333333333333" y1="523.8" x2="357.87333333333333" y2="525.0" stroke="#444" stroke-width="0.7"/>
<line x1="361.2766666666667" y1="523.8" x2="361.2766666666667" y2="525.0" stroke="#444" stroke-width="0.7"/>
<line x1="364.68" y1="523.8" x2="364.68" y2="525.0" stroke="#444" stroke-width="0.7"/>
<line x1="368.08333333333337" y1="523.8" x2="368.08333333333337" y2="525.0" stroke="#444" stroke-width="0.7"/>
<line x1="371.4866666666667" y1="523.8" x2="371.4866666666667" y2="525.0" stroke="#444" stroke-width="0.7"/>
<line x1="374.89000000000004" y1="523.8" x2="374.89000000000004" y2="525.0" stroke="#444" stroke-width="0.7"/>
<line x1="378.29333333333335" y1="523.8" x2="378.29333333333335" y2="525.0" stroke="#444" stroke-width="0.7"/>
<line x1="381.6966666666667" y1="523.8" x2="381.6966666666667" y2="525.0" stroke="#444" stroke-width="0.7"/>
<text x="279.2" y="443.65" font-size="6.9" text-anchor="end" font-weight="bold" fill="#111" color="#111">50</text>
<text x="279.2" y="464.29999999999995" font-size="6.9" text-anchor="end" font-weight="bold" fill="#111" color="#111">38</text>
<text x="279.2" y="484.95" font-size="6.9" text-anchor="end" font-weight="bold" fill="#111" color="#111">25</text>
<text x="279.2" y="505.59999999999997" font-size="6.9" text-anchor="end" font-weight="bold" fill="#111" color="#111">13</text>
<text x="279.2" y="526.25" font-size="6.9" text-anchor="end" font-weight="bold" fill="#111" color="#111">0</text>
<text x="287.3" y="537.5" font-size="6.6" text-anchor="start" font-weight="bold" fill="#111" color="#111">10<tspan font-size="5" dx="1" dy="-3.0">0</tspan></text>
<text x="303.5" y="537.5" font-size="6.6" text-anchor="start" font-weight="bold" fill="#111" color="#111">10<tspan font-size="5" dx="1" dy="-3.0">1</tspan></text>
<text x="320.3" y="537.5" font-size="6.6" text-anchor="start" font-weight="bold" fill="#111" color="#111">10<tspan font-size="5" dx="1" dy="-3.0">2</tspan></text>
<text x="337" y="537.5" font-size="6.6" text-anchor="start" font-weight="bold" fill="#111" color="#111">10<tspan font-size="5" dx="1" dy="-3.0">3</tspan></text>
<text x="354.3" y="537.5" font-size="6.6" text-anchor="start" font-weight="bold" fill="#111" color="#111">10<tspan font-size="5" dx="1" dy="-3.0">4</tspan></text>
<text x="370.9" y="537.5" font-size="6.6" text-anchor="start" font-weight="bold" fill="#111" color="#111">10<tspan font-size="5" dx="1" dy="-3.0">5</tspan></text>
<line x1="290.5" y1="470" x2="353.3" y2="470" stroke="#222" stroke-width="1.35"/>
<line x1="290.5" y1="465.5" x2="290.5" y2="474.5" stroke="#222" stroke-width="1.35"/>
<line x1="353.3" y1="465.5" x2="353.3" y2="474.5" stroke="#222" stroke-width="1.35"/>
<text x="320.3" y="467.8" font-size="7.9" text-anchor="middle" font-weight="bold" fill="#111" color="#111">45.71%</text>
<path d="M400.5 441.7 H505 V523.8" fill="none" stroke="#777" stroke-width="1.1"/>
<path d="M420.00 523.50 C423.33 523.42 434.42 523.22 440.00 523.00 C445.58 522.78 449.92 522.40 453.50 522.20 C457.08 522.00 459.03 522.02 461.50 521.80 C463.97 521.58 466.50 521.23 468.30 520.90 C470.10 520.57 471.30 520.65 472.30 519.80 C473.30 518.95 473.67 517.82 474.30 515.80 C474.93 513.78 475.53 511.30 476.10 507.70 C476.67 504.10 477.17 498.13 477.70 494.20 C478.23 490.27 478.85 486.12 479.30 484.10 C479.75 482.08 480.00 481.98 480.40 482.10 C480.80 482.22 481.25 482.33 481.70 484.80 C482.15 487.27 482.65 492.63 483.10 496.90 C483.55 501.17 483.85 506.70 484.40 510.40 C484.95 514.10 485.28 517.13 486.40 519.10 C487.52 521.07 489.42 521.50 491.10 522.20 C492.78 522.90 494.35 523.08 496.50 523.30 C498.65 523.52 502.75 523.47 504.00 523.50 L504.00 523.8 L420.00 523.8 Z" fill="url(#hg)" stroke="none"/>
<path d="M420.00 523.50 C423.33 523.42 434.42 523.22 440.00 523.00 C445.58 522.78 449.92 522.40 453.50 522.20 C457.08 522.00 459.03 522.02 461.50 521.80 C463.97 521.58 466.50 521.23 468.30 520.90 C470.10 520.57 471.30 520.65 472.30 519.80 C473.30 518.95 473.67 517.82 474.30 515.80 C474.93 513.78 475.53 511.30 476.10 507.70 C476.67 504.10 477.17 498.13 477.70 494.20 C478.23 490.27 478.85 486.12 479.30 484.10 C479.75 482.08 480.00 481.98 480.40 482.10 C480.80 482.22 481.25 482.33 481.70 484.80 C482.15 487.27 482.65 492.63 483.10 496.90 C483.55 501.17 483.85 506.70 484.40 510.40 C484.95 514.10 485.28 517.13 486.40 519.10 C487.52 521.07 489.42 521.50 491.10 522.20 C492.78 522.90 494.35 523.08 496.50 523.30 C498.65 523.52 502.75 523.47 504.00 523.50" fill="none" stroke="#55693d" stroke-width="1.3" stroke-linejoin="round"/>
<path d="M402 441.7 V523.8 H505" fill="none" stroke="#222" stroke-width="1.3"/>
<line x1="399.8" y1="441.7" x2="402" y2="441.7" stroke="#333" stroke-width="0.8"/>
<line x1="400.8" y1="445.805" x2="402" y2="445.805" stroke="#333" stroke-width="0.8"/>
<line x1="400.8" y1="449.90999999999997" x2="402" y2="449.90999999999997" stroke="#333" stroke-width="0.8"/>
<line x1="400.8" y1="454.015" x2="402" y2="454.015" stroke="#333" stroke-width="0.8"/>
<line x1="400.8" y1="458.12" x2="402" y2="458.12" stroke="#333" stroke-width="0.8"/>
<line x1="399.8" y1="462.22499999999997" x2="402" y2="462.22499999999997" stroke="#333" stroke-width="0.8"/>
<line x1="400.8" y1="466.33" x2="402" y2="466.33" stroke="#333" stroke-width="0.8"/>
<line x1="400.8" y1="470.435" x2="402" y2="470.435" stroke="#333" stroke-width="0.8"/>
<line x1="400.8" y1="474.53999999999996" x2="402" y2="474.53999999999996" stroke="#333" stroke-width="0.8"/>
<line x1="400.8" y1="478.645" x2="402" y2="478.645" stroke="#333" stroke-width="0.8"/>
<line x1="399.8" y1="482.75" x2="402" y2="482.75" stroke="#333" stroke-width="0.8"/>
<line x1="400.8" y1="486.85499999999996" x2="402" y2="486.85499999999996" stroke="#333" stroke-width="0.8"/>
<line x1="400.8" y1="490.96" x2="402" y2="490.96" stroke="#333" stroke-width="0.8"/>
<line x1="400.8" y1="495.06499999999994" x2="402" y2="495.06499999999994" stroke="#333" stroke-width="0.8"/>
<line x1="400.8" y1="499.16999999999996" x2="402" y2="499.16999999999996" stroke="#333" stroke-width="0.8"/>
<line x1="399.8" y1="503.275" x2="402" y2="503.275" stroke="#333" stroke-width="0.8"/>
<line x1="400.8" y1="507.38" x2="402" y2="507.38" stroke="#333" stroke-width="0.8"/>
<line x1="400.8" y1="511.48499999999996" x2="402" y2="511.48499999999996" stroke="#333" stroke-width="0.8"/>
<line x1="400.8" y1="515.5899999999999" x2="402" y2="515.5899999999999" stroke="#333" stroke-width="0.8"/>
<line x1="400.8" y1="519.6949999999999" x2="402" y2="519.6949999999999" stroke="#333" stroke-width="0.8"/>
<line x1="399.8" y1="523.8" x2="402" y2="523.8" stroke="#333" stroke-width="0.8"/>
<line x1="405.43333333333334" y1="523.8" x2="405.43333333333334" y2="525.0" stroke="#444" stroke-width="0.7"/>
<line x1="408.8666666666667" y1="523.8" x2="408.8666666666667" y2="525.0" stroke="#444" stroke-width="0.7"/>
<line x1="412.3" y1="523.8" x2="412.3" y2="525.0" stroke="#444" stroke-width="0.7"/>
<line x1="415.73333333333335" y1="523.8" x2="415.73333333333335" y2="525.0" stroke="#444" stroke-width="0.7"/>
<line x1="419.1666666666667" y1="523.8" x2="419.1666666666667" y2="525.0" stroke="#444" stroke-width="0.7"/>
<line x1="422.6" y1="523.8" x2="422.6" y2="525.0" stroke="#444" stroke-width="0.7"/>
<line x1="426.03333333333336" y1="523.8" x2="426.03333333333336" y2="525.0" stroke="#444" stroke-width="0.7"/>
<line x1="429.46666666666664" y1="523.8" x2="429.46666666666664" y2="525.0" stroke="#444" stroke-width="0.7"/>
<line x1="432.9" y1="523.8" x2="432.9" y2="525.0" stroke="#444" stroke-width="0.7"/>
<line x1="436.3333333333333" y1="523.8" x2="436.3333333333333" y2="525.0" stroke="#444" stroke-width="0.7"/>
<line x1="439.76666666666665" y1="523.8" x2="439.76666666666665" y2="525.0" stroke="#444" stroke-width="0.7"/>
<line x1="443.2" y1="523.8" x2="443.2" y2="525.0" stroke="#444" stroke-width="0.7"/>
<line x1="446.6333333333333" y1="523.8" x2="446.6333333333333" y2="525.0" stroke="#444" stroke-width="0.7"/>
<line x1="450.06666666666666" y1="523.8" x2="450.06666666666666" y2="525.0" stroke="#444" stroke-width="0.7"/>
<line x1="453.5" y1="523.8" x2="453.5" y2="525.0" stroke="#444" stroke-width="0.7"/>
<line x1="456.93333333333334" y1="523.8" x2="456.93333333333334" y2="525.0" stroke="#444" stroke-width="0.7"/>
<line x1="460.3666666666667" y1="523.8" x2="460.3666666666667" y2="525.0" stroke="#444" stroke-width="0.7"/>
<line x1="463.8" y1="523.8" x2="463.8" y2="525.0" stroke="#444" stroke-width="0.7"/>
<line x1="467.23333333333335" y1="523.8" x2="467.23333333333335" y2="525.0" stroke="#444" stroke-width="0.7"/>
<line x1="470.6666666666667" y1="523.8" x2="470.6666666666667" y2="525.0" stroke="#444" stroke-width="0.7"/>
<line x1="474.1" y1="523.8" x2="474.1" y2="525.0" stroke="#444" stroke-width="0.7"/>
<line x1="477.5333333333333" y1="523.8" x2="477.5333333333333" y2="525.0" stroke="#444" stroke-width="0.7"/>
<line x1="480.9666666666667" y1="523.8" x2="480.9666666666667" y2="525.0" stroke="#444" stroke-width="0.7"/>
<line x1="484.4" y1="523.8" x2="484.4" y2="525.0" stroke="#444" stroke-width="0.7"/>
<line x1="487.8333333333333" y1="523.8" x2="487.8333333333333" y2="525.0" stroke="#444" stroke-width="0.7"/>
<line x1="491.26666666666665" y1="523.8" x2="491.26666666666665" y2="525.0" stroke="#444" stroke-width="0.7"/>
<line x1="494.7" y1="523.8" x2="494.7" y2="525.0" stroke="#444" stroke-width="0.7"/>
<line x1="498.1333333333333" y1="523.8" x2="498.1333333333333" y2="525.0" stroke="#444" stroke-width="0.7"/>
<line x1="501.56666666666666" y1="523.8" x2="501.56666666666666" y2="525.0" stroke="#444" stroke-width="0.7"/>
<text x="398.2" y="444.15" font-size="6.9" text-anchor="end" font-weight="bold" fill="#111" color="#111">50</text>
<text x="398.2" y="464.67499999999995" font-size="6.9" text-anchor="end" font-weight="bold" fill="#111" color="#111">38</text>
<text x="398.2" y="485.2" font-size="6.9" text-anchor="end" font-weight="bold" fill="#111" color="#111">25</text>
<text x="398.2" y="505.72499999999997" font-size="6.9" text-anchor="end" font-weight="bold" fill="#111" color="#111">13</text>
<text x="398.2" y="526.25" font-size="6.9" text-anchor="end" font-weight="bold" fill="#111" color="#111">0</text>
<text x="406" y="537.5" font-size="6.6" text-anchor="start" font-weight="bold" fill="#111" color="#111">10<tspan font-size="5" dx="1" dy="-3.0">0</tspan></text>
<text x="422.3" y="537.5" font-size="6.6" text-anchor="start" font-weight="bold" fill="#111" color="#111">10<tspan font-size="5" dx="1" dy="-3.0">1</tspan></text>
<text x="439.2" y="537.5" font-size="6.6" text-anchor="start" font-weight="bold" fill="#111" color="#111">10<tspan font-size="5" dx="1" dy="-3.0">2</tspan></text>
<text x="456.5" y="537.5" font-size="6.6" text-anchor="start" font-weight="bold" fill="#111" color="#111">10<tspan font-size="5" dx="1" dy="-3.0">3</tspan></text>
<text x="473.5" y="537.5" font-size="6.6" text-anchor="start" font-weight="bold" fill="#111" color="#111">10<tspan font-size="5" dx="1" dy="-3.0">4</tspan></text>
<text x="490.6" y="537.5" font-size="6.6" text-anchor="start" font-weight="bold" fill="#111" color="#111">10<tspan font-size="5" dx="1" dy="-3.0">5</tspan></text>
<line x1="409.7" y1="470.3" x2="472.4" y2="470.3" stroke="#222" stroke-width="1.35"/>
<line x1="409.7" y1="465.8" x2="409.7" y2="474.8" stroke="#222" stroke-width="1.35"/>
<line x1="472.4" y1="465.8" x2="472.4" y2="474.8" stroke="#222" stroke-width="1.35"/>
<text x="440.8" y="468.1" font-size="7.9" text-anchor="middle" font-weight="bold" fill="#111" color="#111">11.54%</text>
<text x="56.6" y="222.5" font-size="12" text-anchor="start" font-weight="bold" fill="#111" color="#111" transform="translate(0 222.5) scale(1 0.93) translate(0 -222.5)">Mock</text>
<text x="177.6" y="222.5" font-size="12" text-anchor="start" font-weight="bold" fill="#111" color="#111" transform="translate(0 222.5) scale(1 0.93) translate(0 -222.5)">MYXV</text>
<text x="320.4" y="222.5" font-size="12" text-anchor="start" font-weight="bold" fill="#111" color="#111" transform="translate(0 222.5) scale(1 0.93) translate(0 -222.5)">Mock</text>
<text x="437.4" y="222.5" font-size="12" text-anchor="start" font-weight="bold" fill="#111" color="#111" transform="translate(0 222.5) scale(1 0.93) translate(0 -222.5)">MYXV</text>
<text x="133.7" y="209.5" font-size="11.8" text-anchor="middle" font-weight="bold" fill="#111" color="#111">PBMCs</text>
<line x1="107" y1="211.8" x2="161.2" y2="211.8" stroke="#111" stroke-width="1.4"/>
<text x="392.4" y="209.2" font-size="11.9" text-anchor="middle" font-weight="bold" fill="#111" color="#111">Cord blood</text>
<line x1="361" y1="211.5" x2="424.5" y2="211.5" stroke="#111" stroke-width="1.4"/>
<text x="251.7" y="263.3" font-size="12.2" text-anchor="middle" font-weight="bold" fill="#111" color="#111" transform="rotate(-90 251.7 263.3)">Responder</text>
<text x="252.2" y="373.3" font-size="11.8" text-anchor="middle" font-weight="bold" fill="#111" color="#111" transform="rotate(-90 252.2 373.3)">Stimulator</text>
<text x="252.9" y="481.3" font-size="11.9" text-anchor="middle" font-weight="bold" fill="#111" color="#111" transform="rotate(-90 252.9 481.3)">MLR</text>
<text x="515.9" y="265" font-size="12.1" text-anchor="middle" font-weight="bold" fill="#111" color="#111" transform="rotate(-90 515.9 265)">Responder</text>
<text x="515.2" y="369.3" font-size="11.8" text-anchor="middle" font-weight="bold" fill="#111" color="#111" transform="rotate(-90 515.2 369.3)">Stimulator</text>
<text x="517.2" y="483.5" font-size="12.2" text-anchor="middle" font-weight="bold" fill="#111" color="#111" transform="rotate(-90 517.2 483.5)">MLR</text>
<text x="10.2" y="368" font-size="11.8" text-anchor="middle" font-weight="bold" fill="#111" color="#111" transform="rotate(-90 10.2 368)">Count</text>
<text x="277.3" y="372.9" font-size="11.8" text-anchor="middle" font-weight="bold" fill="#111" color="#111" transform="rotate(-90 277.3 372.9)">Count</text>
<text x="95" y="550.4" font-size="12" text-anchor="start" font-weight="bold" fill="#111" color="#111" transform="translate(0 550.4) scale(1 0.9) translate(0 -550.4)">Cell trace violet</text>
<text x="352.5" y="550.4" font-size="12" text-anchor="start" font-weight="bold" fill="#111" color="#111" transform="translate(0 550.4) scale(1 0.9) translate(0 -550.4)">Cell trace violet</text>
<path d="M7.2 518 V548.3 H40.2" fill="none" stroke="#000" stroke-width="2"/>
<path d="M3.9000000000000004 519.6 L7.2 512.8 L10.5 519.6 Z" fill="#000"/>
<path d="M39.2 545.1 L45.800000000000004 548.3 L39.2 551.5 Z" fill="#000"/>
<path d="M270.4 518 V548.3 H303.4" fill="none" stroke="#000" stroke-width="2"/>
<path d="M267.09999999999997 519.6 L270.4 512.8 L273.7 519.6 Z" fill="#000"/>
<path d="M302.4 545.1 L309.0 548.3 L302.4 551.5 Z" fill="#000"/>
</svg>
</body></html>
